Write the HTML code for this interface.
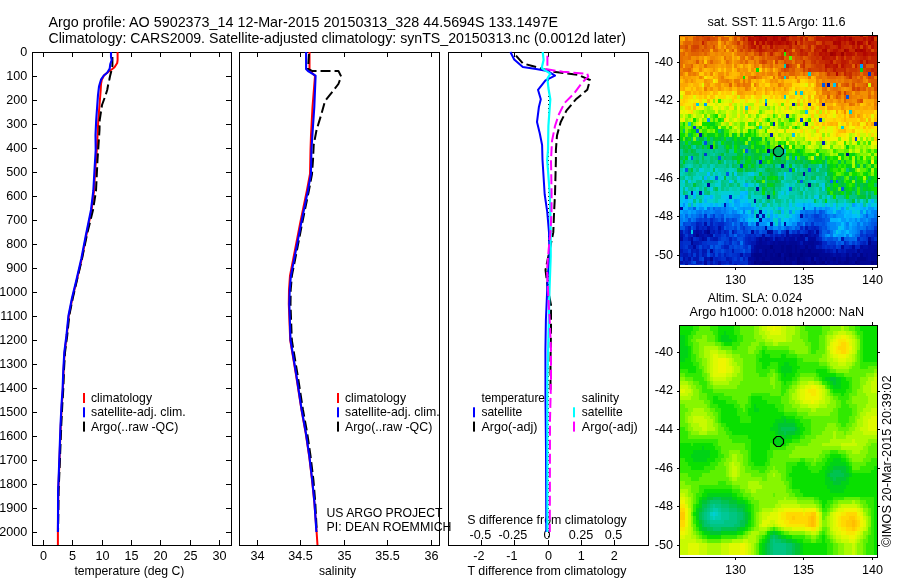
<!DOCTYPE html>
<html><head><meta charset="utf-8"><title>Argo profile</title>
<style>html,body{margin:0;padding:0;background:#fff;width:900px;height:580px;overflow:hidden}svg{display:block}</style>
</head><body>
<svg width="900" height="580" viewBox="0 0 900 580" font-family="Liberation Sans, Arial, Helvetica, sans-serif" fill="#000">
<rect width="900" height="580" fill="#fff"/>
<text x="48.5" y="27" font-size="14.8" textLength="509.5" lengthAdjust="spacingAndGlyphs">Argo profile: AO 5902373_14 12-Mar-2015 20150313_328 44.5694S 133.1497E</text>
<text x="48.5" y="43" font-size="14.8" textLength="577.5" lengthAdjust="spacingAndGlyphs">Climatology: CARS2009. Satellite-adjusted climatology: synTS_20150313.nc (0.0012d later)</text>
<g shape-rendering="crispEdges">
<rect x="32.5" y="52.5" width="199" height="493" fill="none" stroke="#000" stroke-width="1"/>
<rect x="239.5" y="52.5" width="200" height="493" fill="none" stroke="#000" stroke-width="1"/>
<rect x="448.5" y="52.5" width="200" height="493" fill="none" stroke="#000" stroke-width="1"/>
<path d="M33 76.5H37" stroke="#000" stroke-width="1"/>
<path d="M226 76.5H231" stroke="#000" stroke-width="1"/>
<path d="M33 100.5H37" stroke="#000" stroke-width="1"/>
<path d="M226 100.5H231" stroke="#000" stroke-width="1"/>
<path d="M33 124.5H37" stroke="#000" stroke-width="1"/>
<path d="M226 124.5H231" stroke="#000" stroke-width="1"/>
<path d="M33 148.5H37" stroke="#000" stroke-width="1"/>
<path d="M226 148.5H231" stroke="#000" stroke-width="1"/>
<path d="M33 172.5H37" stroke="#000" stroke-width="1"/>
<path d="M226 172.5H231" stroke="#000" stroke-width="1"/>
<path d="M33 196.5H37" stroke="#000" stroke-width="1"/>
<path d="M226 196.5H231" stroke="#000" stroke-width="1"/>
<path d="M33 220.5H37" stroke="#000" stroke-width="1"/>
<path d="M226 220.5H231" stroke="#000" stroke-width="1"/>
<path d="M33 244.5H37" stroke="#000" stroke-width="1"/>
<path d="M226 244.5H231" stroke="#000" stroke-width="1"/>
<path d="M33 268.5H37" stroke="#000" stroke-width="1"/>
<path d="M226 268.5H231" stroke="#000" stroke-width="1"/>
<path d="M33 292.5H37" stroke="#000" stroke-width="1"/>
<path d="M226 292.5H231" stroke="#000" stroke-width="1"/>
<path d="M33 316.5H37" stroke="#000" stroke-width="1"/>
<path d="M226 316.5H231" stroke="#000" stroke-width="1"/>
<path d="M33 340.5H37" stroke="#000" stroke-width="1"/>
<path d="M226 340.5H231" stroke="#000" stroke-width="1"/>
<path d="M33 364.5H37" stroke="#000" stroke-width="1"/>
<path d="M226 364.5H231" stroke="#000" stroke-width="1"/>
<path d="M33 388.5H37" stroke="#000" stroke-width="1"/>
<path d="M226 388.5H231" stroke="#000" stroke-width="1"/>
<path d="M33 412.5H37" stroke="#000" stroke-width="1"/>
<path d="M226 412.5H231" stroke="#000" stroke-width="1"/>
<path d="M33 436.5H37" stroke="#000" stroke-width="1"/>
<path d="M226 436.5H231" stroke="#000" stroke-width="1"/>
<path d="M33 460.5H37" stroke="#000" stroke-width="1"/>
<path d="M226 460.5H231" stroke="#000" stroke-width="1"/>
<path d="M33 484.5H37" stroke="#000" stroke-width="1"/>
<path d="M226 484.5H231" stroke="#000" stroke-width="1"/>
<path d="M33 508.5H37" stroke="#000" stroke-width="1"/>
<path d="M226 508.5H231" stroke="#000" stroke-width="1"/>
<path d="M33 532.5H37" stroke="#000" stroke-width="1"/>
<path d="M226 532.5H231" stroke="#000" stroke-width="1"/>
<path d="M43.5 53V57" stroke="#000" stroke-width="1"/>
<path d="M43.5 540V545" stroke="#000" stroke-width="1"/>
<path d="M72.5 53V57" stroke="#000" stroke-width="1"/>
<path d="M72.5 540V545" stroke="#000" stroke-width="1"/>
<path d="M102.5 53V57" stroke="#000" stroke-width="1"/>
<path d="M102.5 540V545" stroke="#000" stroke-width="1"/>
<path d="M131.5 53V57" stroke="#000" stroke-width="1"/>
<path d="M131.5 540V545" stroke="#000" stroke-width="1"/>
<path d="M160.5 53V57" stroke="#000" stroke-width="1"/>
<path d="M160.5 540V545" stroke="#000" stroke-width="1"/>
<path d="M190.5 53V57" stroke="#000" stroke-width="1"/>
<path d="M190.5 540V545" stroke="#000" stroke-width="1"/>
<path d="M219.5 53V57" stroke="#000" stroke-width="1"/>
<path d="M219.5 540V545" stroke="#000" stroke-width="1"/>
<path d="M257.5 53V57" stroke="#000" stroke-width="1"/>
<path d="M257.5 540V545" stroke="#000" stroke-width="1"/>
<path d="M300.5 53V57" stroke="#000" stroke-width="1"/>
<path d="M300.5 540V545" stroke="#000" stroke-width="1"/>
<path d="M344.5 53V57" stroke="#000" stroke-width="1"/>
<path d="M344.5 540V545" stroke="#000" stroke-width="1"/>
<path d="M387.5 53V57" stroke="#000" stroke-width="1"/>
<path d="M387.5 540V545" stroke="#000" stroke-width="1"/>
<path d="M431.5 53V57" stroke="#000" stroke-width="1"/>
<path d="M431.5 540V545" stroke="#000" stroke-width="1"/>
<path d="M481.5 53V57" stroke="#000" stroke-width="1"/>
<path d="M481.5 540V545" stroke="#000" stroke-width="1"/>
<path d="M514.5 53V57" stroke="#000" stroke-width="1"/>
<path d="M514.5 540V545" stroke="#000" stroke-width="1"/>
<path d="M548.5 53V57" stroke="#000" stroke-width="1"/>
<path d="M548.5 540V545" stroke="#000" stroke-width="1"/>
<path d="M581.5 53V57" stroke="#000" stroke-width="1"/>
<path d="M581.5 540V545" stroke="#000" stroke-width="1"/>
<path d="M614.5 53V57" stroke="#000" stroke-width="1"/>
<path d="M614.5 540V545" stroke="#000" stroke-width="1"/>
</g>
<text x="27.3" y="56.3" font-size="12.6" text-anchor="end">0</text>
<text x="27.3" y="80.3" font-size="12.6" text-anchor="end">100</text>
<text x="27.3" y="104.3" font-size="12.6" text-anchor="end">200</text>
<text x="27.3" y="128.3" font-size="12.6" text-anchor="end">300</text>
<text x="27.3" y="152.3" font-size="12.6" text-anchor="end">400</text>
<text x="27.3" y="176.3" font-size="12.6" text-anchor="end">500</text>
<text x="27.3" y="200.3" font-size="12.6" text-anchor="end">600</text>
<text x="27.3" y="224.3" font-size="12.6" text-anchor="end">700</text>
<text x="27.3" y="248.3" font-size="12.6" text-anchor="end">800</text>
<text x="27.3" y="272.3" font-size="12.6" text-anchor="end">900</text>
<text x="27.3" y="296.3" font-size="12.6" text-anchor="end">1000</text>
<text x="27.3" y="320.3" font-size="12.6" text-anchor="end">1100</text>
<text x="27.3" y="344.3" font-size="12.6" text-anchor="end">1200</text>
<text x="27.3" y="368.3" font-size="12.6" text-anchor="end">1300</text>
<text x="27.3" y="392.3" font-size="12.6" text-anchor="end">1400</text>
<text x="27.3" y="416.3" font-size="12.6" text-anchor="end">1500</text>
<text x="27.3" y="440.3" font-size="12.6" text-anchor="end">1600</text>
<text x="27.3" y="464.3" font-size="12.6" text-anchor="end">1700</text>
<text x="27.3" y="488.3" font-size="12.6" text-anchor="end">1800</text>
<text x="27.3" y="512.3" font-size="12.6" text-anchor="end">1900</text>
<text x="27.3" y="536.3" font-size="12.6" text-anchor="end">2000</text>
<text x="43.5" y="560.3" font-size="12.6" text-anchor="middle">0</text>
<text x="72.5" y="560.3" font-size="12.6" text-anchor="middle">5</text>
<text x="102.5" y="560.3" font-size="12.6" text-anchor="middle">10</text>
<text x="131.5" y="560.3" font-size="12.6" text-anchor="middle">15</text>
<text x="160.5" y="560.3" font-size="12.6" text-anchor="middle">20</text>
<text x="190.5" y="560.3" font-size="12.6" text-anchor="middle">25</text>
<text x="219.5" y="560.3" font-size="12.6" text-anchor="middle">30</text>
<text x="257.5" y="560.3" font-size="12.6" text-anchor="middle">34</text>
<text x="300.5" y="560.3" font-size="12.6" text-anchor="middle">34.5</text>
<text x="344.5" y="560.3" font-size="12.6" text-anchor="middle">35</text>
<text x="387.5" y="560.3" font-size="12.6" text-anchor="middle">35.5</text>
<text x="431.5" y="560.3" font-size="12.6" text-anchor="middle">36</text>
<text x="478.9" y="560.3" font-size="12.6" text-anchor="middle">-2</text>
<text x="511.9" y="560.3" font-size="12.6" text-anchor="middle">-1</text>
<text x="548.5" y="560.3" font-size="12.6" text-anchor="middle">0</text>
<text x="581.3" y="560.3" font-size="12.6" text-anchor="middle">1</text>
<text x="614.2" y="560.3" font-size="12.6" text-anchor="middle">2</text>
<text x="129.4" y="575" font-size="12.6" text-anchor="middle" textLength="110" lengthAdjust="spacingAndGlyphs">temperature (deg C)</text>
<text x="337.5" y="575" font-size="12.6" text-anchor="middle" textLength="37" lengthAdjust="spacingAndGlyphs">salinity</text>
<text x="547" y="575" font-size="12.6" text-anchor="middle" textLength="159" lengthAdjust="spacingAndGlyphs">T difference from climatology</text>
<text x="547" y="524" font-size="12.6" text-anchor="middle" textLength="159.5" lengthAdjust="spacingAndGlyphs">S difference from climatology</text>
<text x="480.3" y="539" font-size="12.6" text-anchor="middle">-0.5</text>
<text x="512.9" y="539" font-size="12.6" text-anchor="middle">-0.25</text>
<text x="547" y="539" font-size="12.6" text-anchor="middle">0</text>
<text x="581" y="539" font-size="12.6" text-anchor="middle">0.25</text>
<text x="613.6" y="539" font-size="12.6" text-anchor="middle">0.5</text>
<text x="326.5" y="516.5" font-size="12.6" textLength="116" lengthAdjust="spacingAndGlyphs">US ARGO PROJECT</text>
<text x="326.5" y="531" font-size="12.6" textLength="125" lengthAdjust="spacingAndGlyphs">PI: DEAN ROEMMICH</text>
<path d="M117.6 52.0 L117.6 60.0 L117.2 63.0 L114.5 67.2 L112.0 69.3 L107.5 72.5 L104.0 75.5 L101.8 79.7 L101.0 84.0 L100.7 90.0 L98.3 120.0 L96.8 150.0 L95.2 170.0 L94.0 191.0 L91.6 210.0 L86.5 234.5 L81.8 258.7 L76.8 280.0 L72.4 298.0 L68.8 316.0 L66.8 335.0 L64.6 352.5 L63.6 370.0 L62.9 388.7 L61.8 405.0 L60.8 425.0 L60.0 445.0 L59.2 468.0 L58.3 491.0 L58.0 519.0 L57.9 532.0 L57.9 545.0" fill="none" stroke="#f00" stroke-width="2" stroke-linejoin="round"/>
<path d="M112.4 57.0 L112.4 66.0 L111.4 70.7 L110.0 76.2 L109.3 79.7 L108.6 82.4 L107.2 90.0 L105.5 95.5 L102.0 105.0 L99.7 120.0 L99.5 130.0 L97.5 160.0 L96.0 191.0 L93.0 210.0 L87.0 234.5 L82.0 258.7 L77.0 280.0 L72.8 298.0 L69.2 316.0 L67.3 335.0 L65.0 352.5 L64.0 370.0 L63.3 388.7 L62.3 405.0 L61.3 425.0 L60.5 445.0 L59.6 468.0 L58.6 491.0 L58.3 519.0 L58.0 532.0" fill="none" stroke="#000" stroke-width="2" stroke-linejoin="round" stroke-dasharray="10 4"/>
<path d="M111.0 52.0 L111.0 57.0 L111.7 60.0 L110.3 64.0 L109.7 68.6 L107.2 72.8 L103.8 75.5 L101.0 79.7 L100.0 83.0 L99.0 86.6 L98.0 95.0 L96.2 120.0 L95.5 135.0 L95.7 150.0 L94.5 170.0 L93.3 191.0 L91.0 210.0 L86.0 234.5 L81.3 258.7 L76.4 280.0 L72.0 298.0 L68.4 316.0 L66.5 335.0 L64.3 352.5 L63.3 370.0 L62.6 388.7 L61.5 405.0 L60.5 425.0 L59.8 445.0 L59.0 468.0 L58.1 491.0 L58.0 519.0 L57.9 532.0" fill="none" stroke="#00f" stroke-width="2.1" stroke-linejoin="round"/>
<path d="M309.5 52.0 L309.5 69.0 L311.0 72.0 L315.0 76.0 L312.5 107.0 L311.0 135.0 L310.5 150.0 L310.0 174.0 L306.8 191.0 L300.3 222.5 L294.7 251.4 L290.0 275.6 L289.0 290.0 L288.8 304.0 L290.2 340.0 L296.2 376.0 L301.5 410.0 L305.7 433.0 L309.2 456.5 L312.0 479.8 L314.4 503.0 L316.6 532.0 L317.5 545.0" fill="none" stroke="#f00" stroke-width="2" stroke-linejoin="round"/>
<path d="M309.0 54.0 L308.0 69.0 L312.0 70.9 L338.4 70.9 L341.2 76.6 L338.4 84.0 L331.7 92.7 L325.0 101.0 L321.3 114.5 L316.6 129.7 L313.7 144.9 L313.0 160.0 L312.0 174.0 L308.8 191.0 L302.3 222.5 L296.7 251.4 L291.9 275.6 L290.7 290.0 L290.5 304.0 L291.8 340.0 L297.8 376.0 L303.0 410.0 L307.2 433.0 L310.6 456.5 L313.4 479.8 L315.3 503.0 L316.8 532.0" fill="none" stroke="#000" stroke-width="2" stroke-linejoin="round" stroke-dasharray="10 4"/>
<path d="M306.1 52.0 L306.1 69.0 L308.0 71.0 L315.6 75.6 L314.3 107.0 L312.4 135.0 L311.4 150.0 L310.9 174.0 L307.8 191.0 L301.3 222.5 L295.7 251.4 L290.9 275.6 L289.7 290.0 L289.3 304.0 L290.5 340.0 L296.5 376.0 L301.7 410.0 L305.9 433.0 L309.4 456.5 L312.2 479.8 L314.5 503.0 L316.4 532.0" fill="none" stroke="#00f" stroke-width="2.1" stroke-linejoin="round"/>
<path d="M548.5 80V545" stroke="#000" stroke-width="1" stroke-dasharray="1 3"/>
<path d="M516.0 55.7 L522.8 63.3 L532.3 66.0 L553.0 71.8 L577.8 74.7 L590.0 80.0 L587.3 89.8 L575.9 99.3 L566.4 110.7 L560.7 122.0 L557.0 135.4 L555.9 150.0 L555.9 160.0 L555.0 194.5 L554.1 211.7 L553.3 232.4 L549.0 253.0 L545.5 270.0 L548.0 290.0 L551.0 305.0 L551.0 330.0 L550.5 360.0 L550.5 390.0" fill="none" stroke="#000" stroke-width="2" stroke-linejoin="round" stroke-dasharray="10 4"/>
<path d="M510.4 52.0 L514.2 59.5 L522.8 67.0 L536.0 69.0 L547.4 70.9 L555.0 75.6 L545.5 80.4 L538.0 89.8 L540.8 99.3 L538.9 107.0 L537.0 122.0 L539.8 133.5 L542.1 145.0 L542.5 160.0 L544.7 194.5 L547.2 211.7 L549.0 232.4 L549.5 256.5 L547.8 275.0 L547.2 290.0 L545.9 320.0 L545.4 350.0 L545.5 400.0 L546.0 450.0 L546.3 532.0" fill="none" stroke="#00f" stroke-width="2" stroke-linejoin="round"/>
<path d="M542.7 52.0 L543.6 60.0 L541.7 68.0 L550.3 73.7 L547.4 78.5 L548.4 88.0 L550.3 99.3 L548.4 126.0 L548.0 150.0 L547.2 160.0 L549.8 194.5 L550.3 211.7 L550.7 232.4 L550.7 256.5 L549.5 290.0 L548.6 330.0 L547.4 380.0 L547.4 532.0" fill="none" stroke="#0ff" stroke-width="2.2" stroke-linejoin="round"/>
<path d="M547.4 55.7 L547.4 66.0 L545.5 69.0 L562.6 71.8 L587.3 73.7 L588.2 76.6 L581.6 83.2 L574.0 93.6 L564.5 103.0 L558.8 114.5 L555.0 126.0 L552.0 141.0 L551.0 160.0 L551.6 194.5 L551.5 211.7 L550.5 232.0 L548.6 250.0 L547.0 270.0 L548.5 300.0 L549.7 320.0 L551.0 350.0 L551.0 380.0 L550.0 420.0 L549.8 532.0" fill="none" stroke="#f0f" stroke-width="2" stroke-linejoin="round" stroke-dasharray="10 4"/>
<rect x="83" y="393.0" width="2" height="10" fill="#f00"/>
<text x="91" y="402.0" font-size="12.4" textLength="61" lengthAdjust="spacingAndGlyphs">climatology</text>
<rect x="83" y="407.3" width="2" height="10" fill="#00f"/>
<text x="91" y="416.3" font-size="12.4" textLength="94.6" lengthAdjust="spacingAndGlyphs">satellite-adj. clim.</text>
<rect x="83" y="421.6" width="2" height="10" fill="#000"/>
<text x="91" y="430.6" font-size="12.4" textLength="87.3" lengthAdjust="spacingAndGlyphs">Argo(..raw -QC)</text>
<rect x="337" y="393.0" width="2" height="10" fill="#f00"/>
<text x="345" y="402.0" font-size="12.4" textLength="61" lengthAdjust="spacingAndGlyphs">climatology</text>
<rect x="337" y="407.3" width="2" height="10" fill="#00f"/>
<text x="345" y="416.3" font-size="12.4" textLength="94.6" lengthAdjust="spacingAndGlyphs">satellite-adj. clim.</text>
<rect x="337" y="421.6" width="2" height="10" fill="#000"/>
<text x="345" y="430.6" font-size="12.4" textLength="87.3" lengthAdjust="spacingAndGlyphs">Argo(..raw -QC)</text>
<text x="481.4" y="402" font-size="12.4" textLength="63.5" lengthAdjust="spacingAndGlyphs">temperature</text>
<text x="581.8" y="402" font-size="12.4" textLength="37.2" lengthAdjust="spacingAndGlyphs">salinity</text>
<rect x="473" y="407.3" width="2" height="10" fill="#00f"/>
<text x="481.4" y="416.3" font-size="12.4" textLength="40.8" lengthAdjust="spacingAndGlyphs">satellite</text>
<rect x="473" y="421.6" width="2" height="10" fill="#000"/>
<text x="481.4" y="430.6" font-size="12.4" textLength="56" lengthAdjust="spacingAndGlyphs">Argo(-adj)</text>
<rect x="573" y="407.3" width="2" height="10" fill="#0ff"/>
<text x="581.8" y="416.3" font-size="12.4" textLength="40.8" lengthAdjust="spacingAndGlyphs">satellite</text>
<rect x="573" y="421.6" width="2" height="10" fill="#f0f"/>
<text x="581.8" y="430.6" font-size="12.4" textLength="56" lengthAdjust="spacingAndGlyphs">Argo(-adj)</text>
<g shape-rendering="crispEdges">
<path fill="#ea7900" d="M680 36h3v1h-3zM685 36h6v1h-6zM732 36h2v1h-2zM732 37h2v4h-2zM737 37h3v4h-3zM729 41h3v4h-3zM688 45h3v4h-3zM715 45h3v4h-3zM729 45h3v4h-3zM734 45h3v4h-3zM683 49h2v3h-2zM729 49h3v3h-3zM792 49h3v3h-3zM702 52h2v4h-2zM707 52h3v4h-3zM751 52h3v4h-3zM683 56h5v4h-5zM683 60h2v4h-2zM702 60h2v4h-2zM778 60h3v4h-3zM792 60h3v4h-3zM685 64h6v4h-6zM754 64h2v4h-2zM767 64h3v4h-3zM775 64h3v4h-3zM778 68h3v4h-3zM795 68h5v4h-5zM680 72h3v4h-3zM688 72h3v4h-3zM693 72h3v4h-3zM770 72h3v4h-3zM786 72h3v4h-3zM795 72h5v4h-5zM811 72h3v4h-3zM822 72h3v4h-3zM721 76h3v3h-3zM748 76h3v3h-3zM756 76h3v3h-3zM778 76h3v3h-3zM795 76h2v3h-2zM808 76h3v3h-3zM816 76h3v3h-3zM822 76h5v3h-5zM841 76h3v3h-3zM857 76h3v3h-3zM874 76h3v3h-3zM726 79h3v4h-3zM734 79h6v4h-6zM748 79h3v4h-3zM822 79h3v4h-3zM830 79h6v4h-6zM838 79h3v4h-3zM849 79h3v4h-3zM745 83h6v4h-6zM754 83h2v4h-2zM778 83h3v4h-3zM849 83h3v4h-3zM704 87h3v4h-3zM745 87h3v4h-3zM830 87h3v4h-3zM838 87h3v4h-3zM871 87h3v4h-3zM822 91h5v4h-5zM849 91h3v4h-3zM855 91h5v4h-5zM849 95h3v4h-3zM852 103h3v3h-3zM874 103h3v3h-3z"/>
<path fill="#e66d00" d="M683 36h2v1h-2zM693 36h3v1h-3zM721 36h3v1h-3zM685 37h3v4h-3zM683 41h2v4h-2zM691 41h2v4h-2zM707 41h3v4h-3zM713 41h5v4h-5zM740 41h3v4h-3zM702 45h2v4h-2zM710 45h3v4h-3zM726 45h3v4h-3zM688 49h3v3h-3zM680 52h3v4h-3zM688 52h3v4h-3zM699 52h3v4h-3zM737 52h8v4h-8zM748 52h3v4h-3zM765 52h2v4h-2zM680 56h3v4h-3zM688 56h3v4h-3zM724 56h2v4h-2zM740 56h3v4h-3zM748 56h3v4h-3zM759 56h3v4h-3zM765 56h2v4h-2zM680 60h3v4h-3zM726 60h3v4h-3zM740 60h3v4h-3zM754 60h2v4h-2zM767 60h3v4h-3zM781 60h3v4h-3zM680 64h3v4h-3zM704 64h3v4h-3zM762 64h3v4h-3zM683 68h5v4h-5zM800 68h3v4h-3zM784 72h2v4h-2zM803 72h2v4h-2zM819 72h3v4h-3zM860 72h3v4h-3zM751 76h3v3h-3zM773 76h2v3h-2zM786 76h3v3h-3zM819 76h3v3h-3zM836 76h5v3h-5zM743 79h2v4h-2zM844 79h5v4h-5zM737 83h3v4h-3zM743 83h2v4h-2zM825 83h2v4h-2zM857 83h6v4h-6zM822 87h3v4h-3zM833 87h5v4h-5zM868 87h3v4h-3zM827 91h3v4h-3zM836 91h2v4h-2zM846 91h3v4h-3zM868 91h3v4h-3zM874 91h3v4h-3zM838 95h3v4h-3zM874 95h3v4h-3zM849 103h3v3h-3z"/>
<path fill="#ef8400" d="M691 36h2v1h-2zM713 36h2v1h-2zM729 36h3v1h-3zM688 37h5v4h-5zM721 41h3v4h-3zM721 45h3v4h-3zM718 49h3v3h-3zM685 52h3v4h-3zM715 52h3v4h-3zM721 52h3v4h-3zM734 52h3v4h-3zM696 56h3v4h-3zM710 56h5v4h-5zM729 56h3v4h-3zM754 56h5v4h-5zM685 60h3v4h-3zM693 60h3v4h-3zM707 60h3v4h-3zM713 60h5v4h-5zM729 60h3v4h-3zM737 60h3v4h-3zM743 60h2v4h-2zM756 60h3v4h-3zM734 64h3v4h-3zM756 64h3v4h-3zM765 64h2v4h-2zM778 64h6v4h-6zM680 68h3v4h-3zM691 68h2v4h-2zM699 68h3v4h-3zM737 68h3v4h-3zM770 68h3v4h-3zM691 72h2v4h-2zM710 72h3v4h-3zM756 72h3v4h-3zM762 72h3v4h-3zM767 72h3v4h-3zM781 72h3v4h-3zM805 72h3v4h-3zM814 72h2v4h-2zM699 76h3v3h-3zM759 76h3v3h-3zM863 76h3v3h-3zM721 79h5v4h-5zM816 79h3v4h-3zM825 79h5v4h-5zM836 79h2v4h-2zM841 79h3v4h-3zM863 79h3v4h-3zM740 83h3v4h-3zM816 83h6v4h-6zM855 83h2v4h-2zM849 87h3v4h-3zM866 87h2v4h-2zM830 91h6v4h-6zM841 91h3v4h-3zM833 95h3v4h-3zM852 95h5v4h-5zM860 95h3v4h-3zM871 95h3v4h-3zM838 99h3v4h-3zM846 99h6v4h-6zM874 99h3v4h-3zM874 106h3v4h-3zM844 110h2v4h-2z"/>
<path fill="#d74c00" d="M696 36h6v1h-6zM704 36h6v1h-6zM715 36h3v1h-3zM737 36h3v1h-3zM797 36h3v1h-3zM696 37h3v4h-3zM702 37h2v4h-2zM710 37h5v4h-5zM734 37h3v4h-3zM803 37h2v4h-2zM811 37h3v4h-3zM704 41h3v4h-3zM797 41h3v4h-3zM816 41h3v4h-3zM685 45h3v4h-3zM691 45h2v4h-2zM704 45h3v4h-3zM713 45h2v4h-2zM745 45h3v4h-3zM691 49h5v3h-5zM702 49h2v3h-2zM745 49h3v3h-3zM781 49h3v3h-3zM871 49h3v3h-3zM754 52h2v4h-2zM762 52h3v4h-3zM767 52h3v4h-3zM773 52h2v4h-2zM795 52h2v4h-2zM808 52h3v4h-3zM775 56h3v4h-3zM795 56h5v4h-5zM836 56h2v4h-2zM765 60h2v4h-2zM784 60h2v4h-2zM795 60h2v4h-2zM811 64h3v4h-3zM786 68h3v4h-3zM830 72h6v4h-6zM852 72h3v4h-3zM857 72h3v4h-3zM863 72h5v4h-5zM871 72h3v4h-3zM846 76h3v3h-3zM871 76h3v3h-3zM846 83h3v4h-3zM852 83h3v4h-3zM866 83h2v4h-2zM871 83h3v4h-3zM874 87h3v4h-3zM838 91h3v4h-3zM860 99h3v4h-3z"/>
<path fill="#cc3600" d="M702 36h2v1h-2zM740 36h3v1h-3zM800 36h3v1h-3zM811 36h3v1h-3zM852 36h3v1h-3zM866 36h2v1h-2zM707 37h3v4h-3zM789 37h3v4h-3zM797 37h3v4h-3zM737 41h3v4h-3zM792 41h3v4h-3zM805 41h3v4h-3zM743 45h2v4h-2zM756 45h3v4h-3zM773 45h2v4h-2zM784 45h2v4h-2zM795 45h2v4h-2zM814 45h2v4h-2zM849 45h3v4h-3zM748 49h3v3h-3zM754 49h2v3h-2zM767 49h6v3h-6zM789 49h3v3h-3zM795 49h5v3h-5zM805 49h3v3h-3zM827 49h3v3h-3zM781 52h3v4h-3zM797 52h3v4h-3zM811 52h3v4h-3zM855 52h2v4h-2zM778 56h3v4h-3zM811 56h5v4h-5zM819 56h3v4h-3zM868 56h3v4h-3zM811 60h3v4h-3zM863 60h3v4h-3zM816 64h6v4h-6zM808 68h3v4h-3zM819 68h3v4h-3zM830 68h3v4h-3zM849 68h8v4h-8zM866 68h5v4h-5zM827 72h3v4h-3zM846 72h3v4h-3z"/>
<path fill="#dc5700" d="M710 36h3v1h-3zM734 36h3v1h-3zM693 37h3v4h-3zM699 37h3v4h-3zM715 37h3v4h-3zM721 37h3v4h-3zM808 37h3v4h-3zM693 41h6v4h-6zM734 41h3v4h-3zM754 41h2v4h-2zM737 45h6v4h-6zM803 45h2v4h-2zM811 45h3v4h-3zM696 49h3v3h-3zM732 49h2v3h-2zM751 49h3v3h-3zM811 49h3v3h-3zM745 52h3v4h-3zM756 52h3v4h-3zM778 52h3v4h-3zM751 56h3v4h-3zM762 56h3v4h-3zM767 56h8v4h-8zM786 56h3v4h-3zM805 56h3v4h-3zM696 60h3v4h-3zM759 60h3v4h-3zM786 60h6v4h-6zM797 60h6v4h-6zM805 60h6v4h-6zM792 64h3v4h-3zM866 64h8v4h-8zM781 68h3v4h-3zM792 68h3v4h-3zM805 68h3v4h-3zM778 72h3v4h-3zM841 72h3v4h-3zM754 76h2v3h-2zM855 76h2v3h-2zM860 76h3v3h-3zM857 79h3v4h-3zM871 79h6v4h-6zM836 83h2v4h-2zM844 83h2v4h-2zM874 83h3v4h-3zM855 87h2v4h-2zM863 87h3v4h-3zM827 95h3v4h-3zM836 95h2v4h-2z"/>
<path fill="#e16200" d="M718 36h3v1h-3zM805 36h3v1h-3zM724 37h5v4h-5zM685 41h6v4h-6zM699 41h3v4h-3zM710 41h3v4h-3zM724 41h2v4h-2zM732 41h2v4h-2zM680 45h5v4h-5zM699 45h3v4h-3zM707 45h3v4h-3zM685 49h3v3h-3zM699 49h3v3h-3zM704 49h6v3h-6zM713 49h5v3h-5zM724 49h2v3h-2zM737 49h3v3h-3zM743 49h2v3h-2zM683 52h2v4h-2zM691 52h8v4h-8zM704 52h3v4h-3zM775 52h3v4h-3zM743 56h2v4h-2zM784 56h2v4h-2zM792 56h3v4h-3zM803 56h2v4h-2zM710 60h3v4h-3zM745 60h3v4h-3zM770 60h3v4h-3zM691 64h2v4h-2zM770 64h3v4h-3zM795 64h2v4h-2zM805 64h6v4h-6zM852 64h3v4h-3zM688 68h3v4h-3zM789 68h3v4h-3zM789 72h6v4h-6zM825 72h2v4h-2zM781 76h3v3h-3zM827 76h9v3h-9zM844 76h2v3h-2zM852 76h3v3h-3zM866 76h2v3h-2zM852 79h5v4h-5zM860 79h3v4h-3zM868 79h3v4h-3zM729 83h3v4h-3zM841 83h3v4h-3zM863 83h3v4h-3zM825 87h2v4h-2zM860 87h3v4h-3zM844 95h2v4h-2zM868 95h3v4h-3zM844 99h2v4h-2zM857 99h3v4h-3z"/>
<path fill="#f79c00" d="M724 36h5v1h-5zM729 37h3v4h-3zM680 49h3v3h-3zM734 49h3v3h-3zM699 56h3v4h-3zM707 56h3v4h-3zM718 56h3v4h-3zM734 56h3v4h-3zM745 56h3v4h-3zM724 60h2v4h-2zM773 60h2v4h-2zM693 64h3v4h-3zM702 64h2v4h-2zM715 64h3v4h-3zM721 64h3v4h-3zM751 64h3v4h-3zM726 68h6v4h-6zM740 68h3v4h-3zM767 68h3v4h-3zM775 68h3v4h-3zM704 72h3v4h-3zM754 72h2v4h-2zM765 72h2v4h-2zM775 72h3v4h-3zM685 76h6v3h-6zM702 76h2v3h-2zM737 76h3v3h-3zM765 76h2v3h-2zM707 79h3v4h-3zM745 79h3v4h-3zM773 79h2v4h-2zM781 79h3v4h-3zM819 79h3v4h-3zM704 83h3v4h-3zM715 83h3v4h-3zM724 83h5v4h-5zM756 83h3v4h-3zM838 83h3v4h-3zM729 87h3v4h-3zM737 87h3v4h-3zM765 87h2v4h-2zM816 87h3v4h-3zM827 87h3v4h-3zM844 87h2v4h-2zM737 91h6v4h-6zM754 91h2v4h-2zM816 91h3v4h-3zM852 91h3v4h-3zM871 91h3v4h-3zM822 95h3v4h-3zM827 99h3v4h-3zM836 99h2v4h-2zM841 99h3v4h-3zM838 103h3v3h-3zM844 103h2v3h-2zM868 103h3v3h-3zM827 106h6v4h-6zM849 114h3v4h-3zM857 114h3v4h-3z"/>
<path fill="#d24100" d="M743 36h2v1h-2zM808 36h3v1h-3zM814 36h2v1h-2zM822 36h3v1h-3zM863 36h3v1h-3zM704 37h3v4h-3zM740 37h3v4h-3zM745 37h3v4h-3zM874 37h3v4h-3zM743 41h5v4h-5zM803 41h2v4h-2zM819 41h3v4h-3zM866 41h2v4h-2zM693 45h6v4h-6zM762 45h3v4h-3zM767 45h3v4h-3zM792 45h3v4h-3zM800 45h3v4h-3zM805 45h3v4h-3zM860 45h3v4h-3zM868 45h3v4h-3zM740 49h3v3h-3zM778 49h3v3h-3zM786 52h3v4h-3zM792 52h3v4h-3zM800 56h3v4h-3zM808 56h3v4h-3zM844 56h2v4h-2zM852 56h3v4h-3zM762 60h3v4h-3zM775 60h3v4h-3zM816 60h3v4h-3zM833 60h3v4h-3zM849 60h3v4h-3zM789 64h3v4h-3zM800 64h3v4h-3zM814 64h2v4h-2zM822 64h3v4h-3zM838 64h3v4h-3zM857 64h3v4h-3zM784 68h2v4h-2zM803 68h2v4h-2zM811 68h8v4h-8zM822 68h3v4h-3zM827 68h3v4h-3zM846 68h3v4h-3zM857 68h3v4h-3zM863 68h3v4h-3zM838 72h3v4h-3zM855 72h2v4h-2zM868 76h3v3h-3zM852 87h3v4h-3zM857 87h3v4h-3zM844 91h2v4h-2z"/>
<path fill="#c22100" d="M745 36h3v1h-3zM792 36h5v1h-5zM803 36h2v1h-2zM816 36h3v1h-3zM846 36h6v1h-6zM743 37h2v4h-2zM805 37h3v4h-3zM855 37h8v4h-8zM866 37h2v4h-2zM702 41h2v4h-2zM748 41h3v4h-3zM800 41h3v4h-3zM814 41h2v4h-2zM841 41h3v4h-3zM863 41h3v4h-3zM874 41h3v4h-3zM775 45h3v4h-3zM808 45h3v4h-3zM822 45h3v4h-3zM836 45h2v4h-2zM841 45h3v4h-3zM866 45h2v4h-2zM874 45h3v4h-3zM762 49h3v3h-3zM773 49h2v3h-2zM816 49h3v3h-3zM830 49h3v3h-3zM838 49h3v3h-3zM866 49h2v3h-2zM770 52h3v4h-3zM800 52h3v4h-3zM805 52h3v4h-3zM814 52h2v4h-2zM844 52h2v4h-2zM830 56h3v4h-3zM846 56h6v4h-6zM860 56h3v4h-3zM866 56h2v4h-2zM871 56h6v4h-6zM825 60h5v4h-5zM846 60h3v4h-3zM857 60h3v4h-3zM868 60h9v4h-9zM786 64h3v4h-3zM830 64h3v4h-3zM844 64h2v4h-2zM874 64h3v4h-3zM825 68h2v4h-2zM844 68h2v4h-2zM871 68h3v4h-3zM844 72h2v4h-2zM874 72h3v4h-3z"/>
<path fill="#bc1700" d="M748 36h3v1h-3zM765 36h2v1h-2zM781 36h3v1h-3zM754 37h2v4h-2zM767 37h3v4h-3zM778 37h3v4h-3zM786 37h3v4h-3zM800 37h3v4h-3zM816 37h14v4h-14zM833 37h3v4h-3zM852 37h3v4h-3zM773 41h2v4h-2zM784 41h2v4h-2zM789 41h3v4h-3zM822 41h3v4h-3zM844 41h2v4h-2zM871 41h3v4h-3zM751 45h3v4h-3zM789 45h3v4h-3zM816 45h6v4h-6zM827 45h3v4h-3zM852 45h3v4h-3zM759 49h3v3h-3zM800 49h3v3h-3zM814 49h2v3h-2zM868 49h3v3h-3zM822 52h3v4h-3zM827 52h3v4h-3zM836 52h5v4h-5zM852 52h3v4h-3zM857 52h6v4h-6zM868 52h3v4h-3zM874 52h3v4h-3zM825 56h5v4h-5zM833 56h3v4h-3zM841 56h3v4h-3zM863 56h3v4h-3zM841 60h5v4h-5zM827 64h3v4h-3zM833 64h3v4h-3zM855 64h2v4h-2zM833 68h3v4h-3z"/>
<path fill="#c72b00" d="M751 36h3v1h-3zM789 36h3v1h-3zM819 36h3v1h-3zM841 36h3v1h-3zM855 36h5v1h-5zM792 37h5v4h-5zM814 37h2v4h-2zM759 41h3v4h-3zM765 41h2v4h-2zM808 41h6v4h-6zM825 41h8v4h-8zM846 41h3v4h-3zM855 41h2v4h-2zM748 45h3v4h-3zM765 45h2v4h-2zM778 45h6v4h-6zM786 45h3v4h-3zM797 45h3v4h-3zM830 45h6v4h-6zM844 45h5v4h-5zM855 45h2v4h-2zM756 49h3v3h-3zM765 49h2v3h-2zM775 49h3v3h-3zM786 49h3v3h-3zM803 49h2v3h-2zM808 49h3v3h-3zM819 49h3v3h-3zM841 49h3v3h-3zM849 49h6v3h-6zM874 49h3v3h-3zM759 52h3v4h-3zM789 52h3v4h-3zM803 52h2v4h-2zM816 52h3v4h-3zM781 56h3v4h-3zM816 56h3v4h-3zM838 56h3v4h-3zM855 56h5v4h-5zM803 60h2v4h-2zM814 60h2v4h-2zM819 60h6v4h-6zM836 60h5v4h-5zM852 60h5v4h-5zM803 64h2v4h-2zM846 64h6v4h-6zM863 64h3v4h-3zM836 68h8v4h-8zM874 68h3v4h-3zM849 72h3v4h-3zM849 76h3v3h-3z"/>
<path fill="#a40100" d="M754 36h2v1h-2zM759 36h3v1h-3zM765 37h2v4h-2zM781 37h5v4h-5zM849 37h3v4h-3zM871 37h3v4h-3zM844 49h2v3h-2zM855 49h2v3h-2zM860 49h3v3h-3z"/>
<path fill="#b20500" d="M756 36h3v1h-3zM775 36h3v1h-3zM830 36h3v1h-3zM844 36h2v1h-2zM860 36h3v1h-3zM874 36h3v1h-3zM748 37h3v4h-3zM762 37h3v4h-3zM775 37h3v4h-3zM838 37h3v4h-3zM844 37h2v4h-2zM756 41h3v4h-3zM762 41h3v4h-3zM778 41h3v4h-3zM786 41h3v4h-3zM836 41h2v4h-2zM860 41h3v4h-3zM838 45h3v4h-3zM784 49h2v3h-2zM822 49h3v3h-3zM846 49h3v3h-3zM857 49h3v3h-3zM863 49h3v3h-3zM863 52h3v4h-3zM836 72h2v4h-2z"/>
<path fill="#b70e00" d="M762 36h3v1h-3zM767 36h6v1h-6zM778 36h3v1h-3zM784 36h2v1h-2zM825 36h5v1h-5zM836 36h5v1h-5zM868 36h3v1h-3zM751 37h3v4h-3zM756 37h3v4h-3zM770 37h3v4h-3zM830 37h3v4h-3zM836 37h2v4h-2zM841 37h3v4h-3zM846 37h3v4h-3zM863 37h3v4h-3zM868 37h3v4h-3zM751 41h3v4h-3zM767 41h3v4h-3zM775 41h3v4h-3zM781 41h3v4h-3zM849 41h3v4h-3zM754 45h2v4h-2zM759 45h3v4h-3zM770 45h3v4h-3zM825 45h2v4h-2zM857 45h3v4h-3zM863 45h3v4h-3zM871 45h3v4h-3zM833 49h5v3h-5zM819 52h3v4h-3zM825 52h2v4h-2zM846 52h6v4h-6zM866 52h2v4h-2zM871 52h3v4h-3zM822 56h3v4h-3zM830 60h3v4h-3zM860 60h3v4h-3zM866 60h2v4h-2zM825 64h2v4h-2zM836 64h2v4h-2zM841 64h3v4h-3z"/>
<path fill="#ab0300" d="M773 36h2v1h-2zM786 36h3v1h-3zM833 36h3v1h-3zM871 36h3v1h-3zM759 37h3v4h-3zM773 37h2v4h-2zM770 41h3v4h-3zM795 41h2v4h-2zM833 41h3v4h-3zM838 41h3v4h-3zM852 41h3v4h-3zM857 41h3v4h-3zM868 41h3v4h-3zM825 49h2v3h-2zM833 52h3v4h-3z"/>
<path fill="#fba700" d="M680 37h3v4h-3zM718 45h3v4h-3zM724 45h2v4h-2zM710 49h3v3h-3zM732 60h2v4h-2zM683 64h2v4h-2zM696 64h3v4h-3zM718 64h3v4h-3zM724 64h2v4h-2zM737 64h3v4h-3zM745 64h3v4h-3zM759 64h3v4h-3zM797 64h3v4h-3zM702 68h2v4h-2zM710 68h3v4h-3zM715 68h3v4h-3zM721 68h3v4h-3zM754 68h2v4h-2zM743 72h2v4h-2zM680 76h3v3h-3zM691 76h5v3h-5zM713 76h2v3h-2zM724 76h2v3h-2zM762 76h3v3h-3zM775 76h3v3h-3zM805 76h3v3h-3zM814 76h2v3h-2zM683 79h2v4h-2zM688 79h3v4h-3zM693 79h3v4h-3zM710 79h3v4h-3zM732 79h2v4h-2zM740 79h3v4h-3zM756 79h3v4h-3zM680 83h8v4h-8zM770 83h3v4h-3zM786 83h6v4h-6zM683 87h2v4h-2zM696 87h3v4h-3zM707 87h3v4h-3zM721 87h3v4h-3zM740 87h5v4h-5zM756 87h3v4h-3zM778 87h3v4h-3zM786 87h3v4h-3zM814 87h2v4h-2zM819 87h3v4h-3zM685 91h6v4h-6zM699 91h3v4h-3zM743 91h2v4h-2zM765 91h2v4h-2zM830 95h3v4h-3zM833 99h3v4h-3zM866 99h8v4h-8zM819 103h3v3h-3zM836 103h2v3h-2zM846 103h3v3h-3zM855 103h2v3h-2zM866 103h2v3h-2zM844 106h2v4h-2zM849 106h3v4h-3zM855 106h5v4h-5zM863 106h5v4h-5zM871 106h3v4h-3zM836 110h2v4h-2zM852 110h3v4h-3zM852 114h3v4h-3zM866 122h2v4h-2zM871 122h3v4h-3z"/>
<path fill="#fdb200" d="M683 37h2v4h-2zM718 41h3v4h-3zM726 49h3v3h-3zM732 52h2v4h-2zM704 56h3v4h-3zM721 56h3v4h-3zM732 56h2v4h-2zM737 56h3v4h-3zM721 60h3v4h-3zM693 68h6v4h-6zM707 68h3v4h-3zM734 68h3v4h-3zM685 72h3v4h-3zM707 72h3v4h-3zM715 72h3v4h-3zM724 72h2v4h-2zM729 72h3v4h-3zM737 72h3v4h-3zM751 72h3v4h-3zM696 76h3v3h-3zM715 76h3v3h-3zM726 76h3v3h-3zM734 76h3v3h-3zM745 76h3v3h-3zM767 76h3v3h-3zM789 76h6v3h-6zM797 76h8v3h-8zM751 79h3v4h-3zM765 79h5v4h-5zM778 79h3v4h-3zM808 79h6v4h-6zM693 83h6v4h-6zM713 83h2v4h-2zM721 83h3v4h-3zM732 83h2v4h-2zM773 83h5v4h-5zM784 83h2v4h-2zM680 87h3v4h-3zM691 87h2v4h-2zM699 87h3v4h-3zM713 87h5v4h-5zM726 87h3v4h-3zM759 87h3v4h-3zM767 87h6v4h-6zM775 87h3v4h-3zM693 91h3v4h-3zM704 91h3v4h-3zM713 91h2v4h-2zM745 91h6v4h-6zM773 91h2v4h-2zM781 91h5v4h-5zM819 91h3v4h-3zM740 95h5v4h-5zM808 95h3v4h-3zM814 95h5v4h-5zM825 95h2v4h-2zM707 99h3v4h-3zM822 99h3v4h-3zM863 99h3v4h-3zM797 103h3v3h-3zM827 103h6v3h-6zM871 103h3v3h-3zM833 106h8v4h-8zM846 106h3v4h-3zM852 106h3v4h-3zM860 106h3v4h-3zM868 106h3v4h-3zM860 110h3v4h-3zM844 114h2v4h-2zM860 114h3v4h-3zM844 118h2v4h-2zM860 118h3v4h-3zM868 118h3v4h-3zM830 122h3v4h-3zM836 122h2v4h-2zM857 122h3v4h-3zM844 129h2v4h-2z"/>
<path fill="#f39000" d="M718 37h3v4h-3zM680 41h3v4h-3zM726 41h3v4h-3zM732 45h2v4h-2zM721 49h3v3h-3zM710 52h5v4h-5zM718 52h3v4h-3zM724 52h8v4h-8zM691 56h5v4h-5zM702 56h2v4h-2zM715 56h3v4h-3zM726 56h3v4h-3zM688 60h5v4h-5zM699 60h3v4h-3zM718 60h3v4h-3zM734 60h3v4h-3zM748 60h6v4h-6zM699 64h3v4h-3zM707 64h8v4h-8zM726 64h6v4h-6zM743 64h2v4h-2zM773 64h2v4h-2zM713 68h2v4h-2zM743 68h5v4h-5zM751 68h3v4h-3zM762 68h3v4h-3zM683 72h2v4h-2zM696 72h3v4h-3zM718 72h6v4h-6zM726 72h3v4h-3zM740 72h3v4h-3zM745 72h6v4h-6zM759 72h3v4h-3zM773 72h2v4h-2zM800 72h3v4h-3zM816 72h3v4h-3zM683 76h2v3h-2zM718 76h3v3h-3zM740 76h3v3h-3zM685 79h3v4h-3zM691 79h2v4h-2zM704 79h3v4h-3zM718 79h3v4h-3zM729 79h3v4h-3zM770 79h3v4h-3zM775 79h3v4h-3zM797 79h3v4h-3zM866 79h2v4h-2zM707 83h3v4h-3zM718 83h3v4h-3zM734 83h3v4h-3zM781 83h3v4h-3zM830 83h3v4h-3zM710 87h3v4h-3zM718 87h3v4h-3zM748 87h3v4h-3zM773 87h2v4h-2zM784 87h2v4h-2zM841 87h3v4h-3zM846 87h3v4h-3zM860 91h8v4h-8zM819 95h3v4h-3zM841 95h3v4h-3zM857 95h3v4h-3zM863 95h5v4h-5zM819 99h3v4h-3zM825 99h2v4h-2zM830 99h3v4h-3zM852 99h5v4h-5zM841 103h3v3h-3zM857 103h3v3h-3zM841 106h3v4h-3z"/>
<path fill="#30ea00" d="M784 52h2v4h-2zM718 99h3v4h-3zM713 114h2v4h-2zM773 114h2v4h-2zM713 118h2v4h-2zM721 118h3v4h-3zM792 118h3v4h-3zM808 118h3v4h-3zM691 122h2v4h-2zM715 122h3v4h-3zM748 122h3v4h-3zM754 122h2v4h-2zM781 122h3v4h-3zM803 122h2v4h-2zM680 126h5v3h-5zM691 126h2v3h-2zM710 126h3v3h-3zM721 126h5v3h-5zM729 126h3v3h-3zM756 126h3v3h-3zM680 129h3v4h-3zM688 129h3v4h-3zM702 129h5v4h-5zM724 129h5v4h-5zM765 129h2v4h-2zM693 133h3v4h-3zM704 133h3v4h-3zM715 133h3v4h-3zM724 133h2v4h-2zM751 133h3v4h-3zM713 141h2v4h-2zM759 141h3v4h-3zM765 141h2v4h-2zM781 141h3v4h-3zM844 141h2v4h-2zM857 141h3v4h-3zM868 141h3v4h-3zM713 145h2v4h-2zM751 145h3v4h-3zM765 145h2v4h-2zM756 149h3v4h-3zM765 149h2v4h-2zM773 149h2v4h-2zM786 149h6v4h-6zM803 149h2v4h-2zM833 149h3v4h-3zM868 149h3v4h-3zM874 149h3v4h-3zM803 153h5v3h-5zM814 153h2v3h-2zM822 153h3v3h-3zM855 153h2v3h-2zM871 153h3v3h-3zM797 156h3v4h-3zM822 156h3v4h-3zM830 156h3v4h-3zM866 156h5v4h-5zM874 156h3v4h-3zM767 160h3v4h-3zM827 160h3v4h-3zM833 160h5v4h-5zM841 160h3v4h-3zM846 160h6v4h-6zM857 160h6v4h-6zM866 160h2v4h-2zM838 164h3v4h-3zM844 164h2v4h-2zM866 164h2v4h-2zM833 168h5v4h-5zM844 168h2v4h-2zM866 168h2v4h-2zM841 172h3v4h-3zM857 172h3v4h-3zM868 172h3v4h-3zM833 176h3v4h-3zM844 176h2v4h-2zM844 180h2v3h-2zM849 183h3v4h-3zM857 187h3v4h-3zM830 191h3v4h-3zM857 191h3v4h-3z"/>
<path fill="#a00000" d="M830 52h3v4h-3zM841 52h3v4h-3z"/>
<path fill="#5ef100" d="M789 56h3v4h-3zM781 103h3v3h-3zM702 110h2v4h-2zM759 110h3v4h-3zM688 114h3v4h-3zM704 114h3v4h-3zM710 114h3v4h-3zM724 114h2v4h-2zM756 114h3v4h-3zM792 114h3v4h-3zM765 118h2v4h-2zM778 118h3v4h-3zM680 122h3v4h-3zM718 122h3v4h-3zM740 122h5v4h-5zM751 122h3v4h-3zM759 122h3v4h-3zM778 122h3v4h-3zM696 126h3v3h-3zM704 126h3v3h-3zM740 126h3v3h-3zM767 126h3v3h-3zM781 126h3v3h-3zM786 126h3v3h-3zM792 126h3v3h-3zM797 126h3v3h-3zM710 129h3v4h-3zM740 129h3v4h-3zM751 129h3v4h-3zM685 133h3v4h-3zM696 133h3v4h-3zM743 133h2v4h-2zM756 133h3v4h-3zM683 137h2v4h-2zM767 137h3v4h-3zM773 137h2v4h-2zM786 137h3v4h-3zM762 141h3v4h-3zM773 141h2v4h-2zM789 141h6v4h-6zM797 141h3v4h-3zM808 141h3v4h-3zM863 141h3v4h-3zM770 145h5v4h-5zM800 145h3v4h-3zM819 145h3v4h-3zM830 145h3v4h-3zM852 145h3v4h-3zM743 149h2v4h-2zM792 149h3v4h-3zM819 149h8v4h-8zM836 149h2v4h-2zM844 149h5v4h-5zM860 149h3v4h-3zM866 149h2v4h-2zM825 153h5v3h-5zM844 153h2v3h-2zM857 153h3v3h-3zM786 156h3v4h-3zM808 156h3v4h-3zM844 156h5v4h-5zM857 156h3v4h-3zM863 160h3v4h-3zM860 164h3v4h-3zM868 164h3v4h-3zM874 164h3v4h-3zM841 168h3v4h-3zM855 168h2v4h-2zM860 168h6v4h-6zM836 172h5v4h-5zM849 172h3v4h-3zM860 172h3v4h-3zM846 176h3v4h-3zM762 180h3v3h-3zM863 180h3v3h-3zM838 187h3v4h-3z"/>
<path fill="#ffca00" d="M704 60h3v4h-3zM718 68h3v4h-3zM724 68h2v4h-2zM732 68h2v4h-2zM699 72h5v4h-5zM713 72h2v4h-2zM707 76h6v3h-6zM770 76h3v3h-3zM792 79h3v4h-3zM805 79h3v4h-3zM691 83h2v4h-2zM699 83h3v4h-3zM759 83h3v4h-3zM685 87h6v4h-6zM693 87h3v4h-3zM702 87h2v4h-2zM762 87h3v4h-3zM789 87h3v4h-3zM797 87h3v4h-3zM805 87h3v4h-3zM811 87h3v4h-3zM691 91h2v4h-2zM721 91h3v4h-3zM726 91h6v4h-6zM775 91h3v4h-3zM797 91h3v4h-3zM808 91h3v4h-3zM683 95h5v4h-5zM699 95h3v4h-3zM713 95h2v4h-2zM734 95h3v4h-3zM748 95h3v4h-3zM756 95h6v4h-6zM770 95h3v4h-3zM775 95h3v4h-3zM789 95h6v4h-6zM800 95h3v4h-3zM683 99h2v4h-2zM732 99h2v4h-2zM797 99h3v4h-3zM803 99h2v4h-2zM680 103h3v3h-3zM693 103h3v3h-3zM729 103h3v3h-3zM816 103h3v3h-3zM860 103h3v3h-3zM688 106h3v4h-3zM748 106h3v4h-3zM805 106h3v4h-3zM816 110h3v4h-3zM822 110h3v4h-3zM827 110h3v4h-3zM811 114h3v4h-3zM819 114h3v4h-3zM825 114h2v4h-2zM838 114h3v4h-3zM855 114h2v4h-2zM868 114h3v4h-3zM874 114h3v4h-3zM814 118h2v4h-2zM833 118h3v4h-3zM841 118h3v4h-3zM846 118h11v4h-11zM816 122h3v4h-3zM855 122h2v4h-2zM868 122h3v4h-3zM811 126h3v3h-3zM836 126h2v3h-2zM844 126h2v3h-2zM868 126h3v3h-3zM816 129h3v4h-3zM836 133h2v4h-2zM819 137h3v4h-3zM874 137h3v4h-3z"/>
<path fill="#ffbd00" d="M732 64h2v4h-2zM740 64h3v4h-3zM748 64h3v4h-3zM704 68h3v4h-3zM748 68h3v4h-3zM765 68h2v4h-2zM773 68h2v4h-2zM732 72h5v4h-5zM729 76h5v3h-5zM811 76h3v3h-3zM680 79h3v4h-3zM696 79h8v4h-8zM754 79h2v4h-2zM759 79h3v4h-3zM784 79h8v4h-8zM795 79h2v4h-2zM814 79h2v4h-2zM688 83h3v4h-3zM710 83h3v4h-3zM762 83h3v4h-3zM808 83h3v4h-3zM814 83h2v4h-2zM724 87h2v4h-2zM732 87h5v4h-5zM751 87h3v4h-3zM781 87h3v4h-3zM795 87h2v4h-2zM696 91h3v4h-3zM702 91h2v4h-2zM707 91h3v4h-3zM715 91h3v4h-3zM751 91h3v4h-3zM756 91h6v4h-6zM767 91h3v4h-3zM778 91h3v4h-3zM786 91h3v4h-3zM803 91h2v4h-2zM704 95h3v4h-3zM710 95h3v4h-3zM781 95h3v4h-3zM808 99h3v4h-3zM814 99h2v4h-2zM825 103h2v3h-2zM863 103h3v3h-3zM693 106h3v4h-3zM811 106h3v4h-3zM819 106h6v4h-6zM841 110h3v4h-3zM855 110h5v4h-5zM863 110h11v4h-11zM866 114h2v4h-2zM863 118h3v4h-3zM874 118h3v4h-3zM822 122h3v4h-3zM827 122h3v4h-3zM833 122h3v4h-3zM846 122h3v4h-3zM852 122h3v4h-3zM863 126h3v3h-3zM838 129h6v4h-6zM852 129h3v4h-3z"/>
<path fill="#00ccac" d="M784 64h2v4h-2zM693 145h3v4h-3zM713 153h2v3h-2zM685 164h3v4h-3zM691 164h2v4h-2zM702 164h5v4h-5zM713 164h2v4h-2zM729 164h3v4h-3zM778 164h3v4h-3zM786 164h3v4h-3zM792 164h3v4h-3zM680 168h3v4h-3zM693 168h3v4h-3zM704 168h6v4h-6zM718 168h6v4h-6zM726 168h3v4h-3zM734 168h3v4h-3zM759 168h3v4h-3zM800 168h3v4h-3zM683 172h2v4h-2zM699 172h8v4h-8zM715 172h3v4h-3zM721 172h5v4h-5zM743 172h5v4h-5zM754 172h5v4h-5zM778 172h3v4h-3zM786 172h6v4h-6zM688 176h3v4h-3zM707 176h3v4h-3zM729 176h3v4h-3zM740 176h3v4h-3zM745 176h3v4h-3zM786 176h6v4h-6zM691 180h2v3h-2zM715 180h3v3h-3zM748 180h3v3h-3zM784 180h2v3h-2zM792 180h3v3h-3zM808 180h3v3h-3zM816 180h9v3h-9zM691 183h2v4h-2zM702 183h2v4h-2zM710 183h5v4h-5zM726 183h3v4h-3zM734 183h3v4h-3zM789 183h3v4h-3zM800 183h5v4h-5zM693 187h3v4h-3zM707 187h3v4h-3zM724 187h2v4h-2zM732 187h5v4h-5zM754 187h2v4h-2zM795 187h2v4h-2zM814 187h2v4h-2zM715 191h3v4h-3zM784 191h2v4h-2zM789 191h8v4h-8zM808 191h3v4h-3zM814 191h2v4h-2zM688 195h3v4h-3zM696 195h6v4h-6zM715 195h6v4h-6zM797 195h3v4h-3zM836 195h2v4h-2zM715 199h3v4h-3zM756 199h3v4h-3zM781 199h3v4h-3zM816 199h3v4h-3zM830 199h6v4h-6zM838 199h6v4h-6zM874 199h3v4h-3zM688 203h3v4h-3zM756 203h3v4h-3zM786 203h3v4h-3zM836 203h2v4h-2zM759 207h3v3h-3zM773 207h2v3h-2zM846 207h3v3h-3zM754 210h2v4h-2zM775 210h3v4h-3zM767 214h3v4h-3z"/>
<path fill="#009afc" d="M860 64h3v4h-3zM704 103h3v3h-3zM707 118h3v4h-3zM795 156h2v4h-2zM734 199h3v4h-3zM726 203h3v4h-3zM852 203h3v4h-3zM729 207h5v3h-5zM740 207h3v3h-3zM745 207h9v3h-9zM827 207h3v3h-3zM841 207h3v3h-3zM868 207h6v3h-6zM693 210h3v4h-3zM729 210h3v4h-3zM836 210h2v4h-2zM683 214h2v4h-2zM743 214h5v4h-5zM797 214h3v4h-3zM838 214h6v4h-6zM740 218h3v4h-3zM765 218h2v4h-2zM778 218h3v4h-3zM797 218h3v4h-3zM841 218h5v4h-5zM849 218h3v4h-3zM866 218h2v4h-2zM754 222h2v4h-2zM765 222h2v4h-2zM836 222h5v4h-5zM844 222h2v4h-2zM852 222h5v4h-5zM860 222h3v4h-3zM844 226h2v4h-2zM833 230h3v4h-3zM841 230h3v4h-3zM849 230h3v4h-3zM827 234h3v3h-3zM838 234h6v3h-6z"/>
<path fill="#09e000" d="M756 68h3v4h-3zM743 76h2v3h-2zM715 114h3v4h-3zM693 118h3v4h-3zM718 118h3v4h-3zM767 118h3v4h-3zM789 118h3v4h-3zM683 122h2v4h-2zM702 122h8v4h-8zM770 122h3v4h-3zM699 126h3v3h-3zM707 126h3v3h-3zM713 126h2v3h-2zM691 129h5v4h-5zM715 129h3v4h-3zM748 129h3v4h-3zM754 129h2v4h-2zM680 133h5v4h-5zM726 133h3v4h-3zM734 133h3v4h-3zM745 133h6v4h-6zM754 133h2v4h-2zM688 137h3v4h-3zM707 137h3v4h-3zM724 137h2v4h-2zM734 137h3v4h-3zM740 137h3v4h-3zM685 141h3v4h-3zM721 141h3v4h-3zM751 141h3v4h-3zM756 141h3v4h-3zM778 141h3v4h-3zM784 141h2v4h-2zM726 145h3v4h-3zM734 145h3v4h-3zM767 145h3v4h-3zM786 145h3v4h-3zM792 145h3v4h-3zM803 145h2v4h-2zM734 149h3v4h-3zM762 149h3v4h-3zM778 149h3v4h-3zM795 149h2v4h-2zM800 149h3v4h-3zM816 149h3v4h-3zM770 153h3v3h-3zM786 153h3v3h-3zM792 153h8v3h-8zM808 153h6v3h-6zM849 153h3v3h-3zM748 156h3v4h-3zM759 156h3v4h-3zM770 156h3v4h-3zM792 156h3v4h-3zM816 156h3v4h-3zM827 156h3v4h-3zM833 156h5v4h-5zM841 156h3v4h-3zM849 156h3v4h-3zM860 156h3v4h-3zM811 160h5v4h-5zM819 160h3v4h-3zM830 160h3v4h-3zM874 160h3v4h-3zM833 164h3v4h-3zM841 164h3v4h-3zM855 164h2v4h-2zM830 168h3v4h-3zM838 168h3v4h-3zM874 168h3v4h-3zM833 172h3v4h-3zM852 172h5v4h-5zM863 172h3v4h-3zM874 172h3v4h-3zM773 176h2v4h-2zM857 176h6v4h-6zM866 176h2v4h-2zM874 176h3v4h-3zM846 180h3v3h-3zM871 180h3v3h-3zM833 183h5v4h-5zM846 183h3v4h-3zM852 183h3v4h-3zM868 183h6v4h-6zM827 187h3v4h-3zM849 187h3v4h-3zM871 187h6v4h-6zM762 191h3v4h-3zM773 191h2v4h-2zM841 191h3v4h-3zM874 191h3v4h-3zM833 195h3v4h-3zM846 195h3v4h-3z"/>
<path fill="#ffd800" d="M759 68h3v4h-3zM715 79h3v4h-3zM762 79h3v4h-3zM800 79h5v4h-5zM751 83h3v4h-3zM765 83h5v4h-5zM792 83h8v4h-8zM754 87h2v4h-2zM800 87h5v4h-5zM808 87h3v4h-3zM710 91h3v4h-3zM724 91h2v4h-2zM734 91h3v4h-3zM762 91h3v4h-3zM770 91h3v4h-3zM805 91h3v4h-3zM811 91h3v4h-3zM688 95h5v4h-5zM696 95h3v4h-3zM702 95h2v4h-2zM718 95h8v4h-8zM732 95h2v4h-2zM745 95h3v4h-3zM754 95h2v4h-2zM778 95h3v4h-3zM680 99h3v4h-3zM685 99h3v4h-3zM699 99h3v4h-3zM745 99h3v4h-3zM756 99h3v4h-3zM786 99h3v4h-3zM811 99h3v4h-3zM683 103h2v3h-2zM778 103h3v3h-3zM803 103h5v3h-5zM833 103h3v3h-3zM685 106h3v4h-3zM786 106h3v4h-3zM803 106h2v4h-2zM814 106h2v4h-2zM825 106h2v4h-2zM691 110h2v4h-2zM743 110h2v4h-2zM838 110h3v4h-3zM846 110h3v4h-3zM874 110h3v4h-3zM822 114h3v4h-3zM836 114h2v4h-2zM841 114h3v4h-3zM846 114h3v4h-3zM863 114h3v4h-3zM724 118h2v4h-2zM825 118h8v4h-8zM836 118h5v4h-5zM857 118h3v4h-3zM814 122h2v4h-2zM825 122h2v4h-2zM841 122h3v4h-3zM819 126h3v3h-3zM825 126h2v3h-2zM846 126h3v3h-3zM855 126h5v3h-5zM871 126h3v3h-3zM800 129h3v4h-3zM836 129h2v4h-2zM846 129h6v4h-6zM866 129h2v4h-2zM838 133h3v4h-3zM857 133h3v4h-3zM871 133h3v4h-3z"/>
<path fill="#00d316" d="M860 68h3v4h-3zM710 122h5v4h-5zM715 126h3v3h-3zM795 126h2v3h-2zM691 133h2v4h-2zM702 133h2v4h-2zM707 133h8v4h-8zM718 133h3v4h-3zM680 137h3v4h-3zM715 137h3v4h-3zM743 137h5v4h-5zM754 137h5v4h-5zM765 137h2v4h-2zM693 141h9v4h-9zM734 141h3v4h-3zM743 141h2v4h-2zM688 145h3v4h-3zM702 145h2v4h-2zM707 145h3v4h-3zM756 145h6v4h-6zM846 145h3v4h-3zM740 153h3v3h-3zM778 153h3v3h-3zM800 153h3v3h-3zM819 153h3v3h-3zM838 153h6v3h-6zM852 153h3v3h-3zM685 156h3v4h-3zM737 156h3v4h-3zM765 156h2v4h-2zM805 156h3v4h-3zM855 156h2v4h-2zM683 160h2v4h-2zM737 160h3v4h-3zM745 160h6v4h-6zM762 160h3v4h-3zM770 160h3v4h-3zM816 160h3v4h-3zM868 160h3v4h-3zM743 164h5v4h-5zM751 164h3v4h-3zM759 164h3v4h-3zM789 164h3v4h-3zM830 164h3v4h-3zM846 164h6v4h-6zM871 164h3v4h-3zM792 168h3v4h-3zM852 168h3v4h-3zM868 168h3v4h-3zM759 172h3v4h-3zM844 172h5v4h-5zM866 172h2v4h-2zM754 176h2v4h-2zM767 176h6v4h-6zM775 176h3v4h-3zM836 176h2v4h-2zM852 176h3v4h-3zM871 176h3v4h-3zM833 180h3v3h-3zM849 180h3v3h-3zM857 180h6v3h-6zM868 180h3v3h-3zM874 180h3v3h-3zM767 183h6v4h-6zM857 183h3v4h-3zM762 187h3v4h-3zM833 187h3v4h-3zM846 187h3v4h-3zM863 187h3v4h-3zM868 187h3v4h-3zM846 191h3v4h-3zM825 199h2v4h-2z"/>
<path fill="#00ced6" d="M808 72h3v4h-3zM784 76h2v3h-2zM795 91h2v4h-2zM800 91h3v4h-3zM784 95h2v4h-2zM745 106h3v4h-3zM849 110h3v4h-3zM841 126h3v3h-3zM683 168h2v4h-2zM702 168h2v4h-2zM715 168h3v4h-3zM795 168h2v4h-2zM713 172h2v4h-2zM718 172h3v4h-3zM748 172h3v4h-3zM685 176h3v4h-3zM699 176h3v4h-3zM721 176h3v4h-3zM702 180h2v3h-2zM718 180h3v3h-3zM743 180h2v3h-2zM795 180h2v3h-2zM814 180h2v3h-2zM715 183h6v4h-6zM748 183h6v4h-6zM756 183h3v4h-3zM786 183h3v4h-3zM680 187h3v4h-3zM696 187h3v4h-3zM786 187h3v4h-3zM680 191h3v4h-3zM688 191h3v4h-3zM721 191h13v4h-13zM803 191h2v4h-2zM713 195h2v4h-2zM732 195h5v4h-5zM751 195h3v4h-3zM778 195h3v4h-3zM827 195h3v4h-3zM696 199h3v4h-3zM702 199h2v4h-2zM707 199h6v4h-6zM718 199h6v4h-6zM729 199h3v4h-3zM748 199h3v4h-3zM762 199h3v4h-3zM773 199h2v4h-2zM784 199h2v4h-2zM789 199h3v4h-3zM795 199h8v4h-8zM805 199h3v4h-3zM811 199h3v4h-3zM819 199h3v4h-3zM844 199h2v4h-2zM855 199h2v4h-2zM860 199h3v4h-3zM868 199h3v4h-3zM816 203h3v4h-3zM838 203h6v4h-6zM846 203h3v4h-3zM866 203h2v4h-2zM871 203h3v4h-3zM762 207h3v3h-3zM767 207h6v3h-6zM775 207h3v3h-3zM797 207h6v3h-6zM748 210h3v4h-3zM756 210h3v4h-3zM767 210h3v4h-3zM786 210h3v4h-3zM852 210h3v4h-3zM857 210h3v4h-3zM778 214h3v4h-3zM784 214h2v4h-2zM754 218h2v4h-2zM781 218h3v4h-3z"/>
<path fill="#0031cd" d="M868 72h3v4h-3zM685 195h3v4h-3zM803 207h2v3h-2zM704 214h3v4h-3zM715 222h3v4h-3zM811 222h3v4h-3zM685 226h3v4h-3zM715 226h3v4h-3zM743 226h2v4h-2zM808 226h3v4h-3zM874 226h3v4h-3zM721 230h3v4h-3zM734 230h3v4h-3zM756 230h3v4h-3zM784 230h2v4h-2zM792 230h3v4h-3zM803 230h2v4h-2zM814 230h2v4h-2zM745 234h3v3h-3zM751 234h3v3h-3zM759 234h3v3h-3zM765 234h5v3h-5zM773 234h2v3h-2zM860 234h3v3h-3zM868 234h3v3h-3zM693 237h3v4h-3zM718 237h3v4h-3zM734 237h3v4h-3zM805 237h3v4h-3zM866 237h2v4h-2zM874 237h3v4h-3zM683 241h8v4h-8zM702 241h5v4h-5zM724 241h2v4h-2zM737 241h3v4h-3zM866 241h2v4h-2zM683 245h2v4h-2zM704 245h3v4h-3zM721 245h3v4h-3zM745 245h3v4h-3zM825 245h2v4h-2zM830 245h3v4h-3zM699 249h3v4h-3zM713 249h2v4h-2zM726 249h3v4h-3zM699 253h3v4h-3zM710 253h3v4h-3zM726 253h3v4h-3zM732 253h5v4h-5zM743 253h2v4h-2zM691 257h2v4h-2zM721 257h5v4h-5zM732 257h2v4h-2zM745 257h3v4h-3zM713 261h2v3h-2zM732 261h2v3h-2zM740 261h8v3h-8zM699 264h3v1h-3zM724 264h2v1h-2zM737 264h3v1h-3zM745 264h3v1h-3z"/>
<path fill="#f8e800" d="M704 76h3v3h-3zM800 83h5v4h-5zM811 83h3v4h-3zM792 87h3v4h-3zM683 91h2v4h-2zM718 91h3v4h-3zM789 91h6v4h-6zM814 91h2v4h-2zM707 95h3v4h-3zM729 95h3v4h-3zM765 95h5v4h-5zM773 95h2v4h-2zM795 95h5v4h-5zM805 95h3v4h-3zM688 99h3v4h-3zM693 99h3v4h-3zM710 99h3v4h-3zM715 99h3v4h-3zM734 99h6v4h-6zM775 99h9v4h-9zM805 99h3v4h-3zM816 99h3v4h-3zM685 103h8v3h-8zM743 103h2v3h-2zM754 103h5v3h-5zM762 103h3v3h-3zM784 103h5v3h-5zM811 103h5v3h-5zM729 106h5v4h-5zM743 106h2v4h-2zM756 106h3v4h-3zM688 110h3v4h-3zM748 110h3v4h-3zM754 110h2v4h-2zM770 110h3v4h-3zM784 110h2v4h-2zM808 110h6v4h-6zM830 110h3v4h-3zM726 114h3v4h-3zM737 114h3v4h-3zM805 114h3v4h-3zM827 114h6v4h-6zM683 118h2v4h-2zM748 118h3v4h-3zM759 118h3v4h-3zM797 118h3v4h-3zM811 118h3v4h-3zM871 118h3v4h-3zM729 122h3v4h-3zM795 122h2v4h-2zM819 122h3v4h-3zM844 122h2v4h-2zM849 122h3v4h-3zM863 122h3v4h-3zM833 126h3v3h-3zM860 126h3v3h-3zM866 126h2v3h-2zM874 126h3v3h-3zM786 129h3v4h-3zM792 129h3v4h-3zM805 129h3v4h-3zM825 129h2v4h-2zM833 129h3v4h-3zM857 129h3v4h-3zM863 129h3v4h-3zM868 129h3v4h-3zM874 129h3v4h-3zM808 133h3v4h-3zM819 133h3v4h-3zM833 133h3v4h-3zM841 133h5v4h-5zM866 133h2v4h-2zM808 137h3v4h-3zM814 137h2v4h-2zM825 137h5v4h-5zM844 137h2v4h-2zM852 137h3v4h-3z"/>
<path fill="#f0f500" d="M713 79h2v4h-2zM680 91h3v4h-3zM715 95h3v4h-3zM726 95h3v4h-3zM751 95h3v4h-3zM786 95h3v4h-3zM811 95h3v4h-3zM691 99h2v4h-2zM696 99h3v4h-3zM748 99h6v4h-6zM762 99h3v4h-3zM767 99h8v4h-8zM792 99h5v4h-5zM707 103h8v3h-8zM718 103h3v3h-3zM724 103h5v3h-5zM767 103h6v3h-6zM789 103h3v3h-3zM696 106h8v4h-8zM713 106h5v4h-5zM721 106h3v4h-3zM737 106h3v4h-3zM775 106h3v4h-3zM781 106h3v4h-3zM792 106h3v4h-3zM797 106h3v4h-3zM680 110h3v4h-3zM685 110h3v4h-3zM751 110h3v4h-3zM775 110h3v4h-3zM786 110h6v4h-6zM833 110h3v4h-3zM702 114h2v4h-2zM745 114h3v4h-3zM762 114h3v4h-3zM778 114h3v4h-3zM803 114h2v4h-2zM726 118h3v4h-3zM734 118h3v4h-3zM803 118h2v4h-2zM699 122h3v4h-3zM756 122h3v4h-3zM838 122h3v4h-3zM860 122h3v4h-3zM770 126h3v3h-3zM789 126h3v3h-3zM803 126h2v3h-2zM849 126h6v3h-6zM767 129h3v4h-3zM778 129h6v4h-6zM797 129h3v4h-3zM855 129h2v4h-2zM795 133h2v4h-2zM805 133h3v4h-3zM816 133h3v4h-3zM825 133h2v4h-2zM830 133h3v4h-3zM846 133h3v4h-3zM855 133h2v4h-2zM805 137h3v4h-3zM811 137h3v4h-3zM816 137h3v4h-3zM830 137h8v4h-8zM841 137h3v4h-3zM846 137h3v4h-3zM857 137h3v4h-3zM863 137h3v4h-3zM838 141h6v4h-6zM871 141h6v4h-6zM827 145h3v4h-3zM871 160h3v4h-3z"/>
<path fill="#dff900" d="M702 83h2v4h-2zM805 83h3v4h-3zM732 91h2v4h-2zM693 95h3v4h-3zM762 95h3v4h-3zM702 99h5v4h-5zM724 99h5v4h-5zM740 99h5v4h-5zM754 99h2v4h-2zM784 99h2v4h-2zM789 99h3v4h-3zM800 99h3v4h-3zM721 103h3v3h-3zM737 103h3v3h-3zM759 103h3v3h-3zM775 103h3v3h-3zM683 106h2v4h-2zM691 106h2v4h-2zM754 106h2v4h-2zM800 106h3v4h-3zM816 106h3v4h-3zM683 110h2v4h-2zM715 110h3v4h-3zM726 110h3v4h-3zM737 110h3v4h-3zM756 110h3v4h-3zM765 110h5v4h-5zM781 110h3v4h-3zM792 110h3v4h-3zM814 110h2v4h-2zM825 110h2v4h-2zM683 114h2v4h-2zM693 114h3v4h-3zM754 114h2v4h-2zM765 114h2v4h-2zM797 114h3v4h-3zM833 114h3v4h-3zM871 114h3v4h-3zM680 118h3v4h-3zM699 118h3v4h-3zM751 118h3v4h-3zM816 118h3v4h-3zM866 118h2v4h-2zM745 122h3v4h-3zM767 122h3v4h-3zM775 122h3v4h-3zM800 122h3v4h-3zM808 122h3v4h-3zM734 126h3v3h-3zM745 126h3v3h-3zM805 126h3v3h-3zM814 126h5v3h-5zM827 126h6v3h-6zM838 126h3v3h-3zM770 129h5v4h-5zM789 129h3v4h-3zM795 129h2v4h-2zM808 129h3v4h-3zM819 129h6v4h-6zM827 129h6v4h-6zM860 129h3v4h-3zM871 129h3v4h-3zM775 133h3v4h-3zM800 133h3v4h-3zM814 133h2v4h-2zM874 133h3v4h-3zM775 137h6v4h-6zM792 137h3v4h-3zM786 141h3v4h-3zM811 141h5v4h-5zM827 141h3v4h-3zM852 141h3v4h-3zM789 145h3v4h-3zM808 145h3v4h-3zM825 145h2v4h-2zM841 145h3v4h-3zM871 145h3v4h-3z"/>
<path fill="#0059e5" d="M822 83h3v4h-3zM846 95h3v4h-3zM696 129h3v4h-3zM745 149h3v4h-3zM691 156h2v4h-2zM718 156h3v4h-3zM685 168h3v4h-3zM789 168h3v4h-3zM808 168h3v4h-3zM726 172h3v4h-3zM715 176h3v4h-3zM800 180h3v3h-3zM789 187h3v4h-3zM841 187h3v4h-3zM693 207h3v3h-3zM814 210h2v4h-2zM699 214h3v4h-3zM710 214h3v4h-3zM825 214h2v4h-2zM718 218h3v4h-3zM729 218h3v4h-3zM808 218h6v4h-6zM734 222h3v4h-3zM745 222h3v4h-3zM808 222h3v4h-3zM814 222h2v4h-2zM819 222h3v4h-3zM871 222h3v4h-3zM680 226h5v4h-5zM691 226h2v4h-2zM724 226h2v4h-2zM732 226h2v4h-2zM748 226h3v4h-3zM786 226h3v4h-3zM795 226h2v4h-2zM822 226h3v4h-3zM871 226h3v4h-3zM729 230h3v4h-3zM740 230h3v4h-3zM748 230h3v4h-3zM759 230h3v4h-3zM863 230h3v4h-3zM836 237h2v4h-2zM718 241h3v4h-3zM849 241h3v4h-3zM710 245h3v4h-3zM715 245h3v4h-3zM743 249h2v4h-2z"/>
<path fill="#00099d" d="M827 83h3v4h-3zM822 103h3v3h-3zM805 122h3v4h-3zM710 145h3v4h-3zM778 145h3v4h-3zM781 164h3v4h-3zM803 172h2v4h-2zM707 183h3v4h-3zM756 187h3v4h-3zM691 191h2v4h-2zM699 191h3v4h-3zM767 195h3v4h-3zM754 199h2v4h-2zM680 207h3v3h-3zM759 210h3v4h-3zM800 214h3v4h-3zM770 222h3v4h-3zM784 222h2v4h-2zM765 226h2v4h-2zM696 230h3v4h-3zM704 230h3v4h-3zM751 230h3v4h-3zM770 230h3v4h-3zM786 230h3v4h-3zM816 230h3v4h-3zM710 234h3v3h-3zM762 234h3v3h-3zM786 234h3v3h-3zM680 237h3v4h-3zM691 237h2v4h-2zM702 237h2v4h-2zM767 237h3v4h-3zM775 237h3v4h-3zM784 237h2v4h-2zM789 237h6v4h-6zM797 237h8v4h-8zM808 237h8v4h-8zM868 237h3v4h-3zM756 241h3v4h-3zM762 241h5v4h-5zM770 241h3v4h-3zM775 241h3v4h-3zM786 241h3v4h-3zM797 241h3v4h-3zM805 241h3v4h-3zM814 241h5v4h-5zM693 245h3v4h-3zM754 245h2v4h-2zM800 245h5v4h-5zM808 245h3v4h-3zM814 245h2v4h-2zM841 245h3v4h-3zM852 245h3v4h-3zM860 245h3v4h-3zM868 245h9v4h-9zM710 249h3v4h-3zM754 249h2v4h-2zM822 249h3v4h-3zM836 249h2v4h-2zM863 249h11v4h-11zM781 253h3v4h-3zM830 253h3v4h-3zM836 253h5v4h-5zM863 253h3v4h-3zM868 253h3v4h-3zM748 257h6v4h-6zM808 257h3v4h-3zM836 257h2v4h-2zM841 257h5v4h-5zM855 257h2v4h-2zM868 257h3v4h-3zM704 261h3v3h-3zM751 261h3v3h-3zM792 261h3v3h-3zM825 261h2v3h-2zM830 261h3v3h-3zM836 261h2v3h-2zM852 261h3v3h-3zM685 264h3v1h-3zM718 264h3v1h-3zM751 264h3v1h-3zM827 264h3v1h-3zM838 264h3v1h-3zM855 264h2v1h-2zM866 264h5v1h-5z"/>
<path fill="#00c7ea" d="M833 83h3v4h-3zM696 103h3v3h-3zM805 110h3v4h-3zM759 126h3v3h-3zM792 133h3v4h-3zM784 149h2v4h-2zM699 168h3v4h-3zM734 172h3v4h-3zM751 172h3v4h-3zM710 176h3v4h-3zM737 176h3v4h-3zM784 176h2v4h-2zM683 180h2v3h-2zM688 180h3v3h-3zM743 183h2v4h-2zM822 183h3v4h-3zM685 187h3v4h-3zM710 187h3v4h-3zM822 187h3v4h-3zM702 191h2v4h-2zM781 191h3v4h-3zM786 191h3v4h-3zM680 195h5v4h-5zM707 195h3v4h-3zM721 195h8v4h-8zM737 195h3v4h-3zM745 195h3v4h-3zM814 195h5v4h-5zM680 199h3v4h-3zM688 199h3v4h-3zM724 199h2v4h-2zM740 199h5v4h-5zM808 199h3v4h-3zM704 203h3v4h-3zM713 203h2v4h-2zM718 203h3v4h-3zM732 203h2v4h-2zM759 203h3v4h-3zM767 203h3v4h-3zM795 203h2v4h-2zM814 203h2v4h-2zM819 203h3v4h-3zM827 203h3v4h-3zM857 203h3v4h-3zM874 203h3v4h-3zM756 207h3v3h-3zM765 207h2v3h-2zM781 207h3v3h-3zM789 207h6v3h-6zM838 207h3v3h-3zM849 207h6v3h-6zM762 210h3v4h-3zM833 210h3v4h-3zM855 210h2v4h-2zM863 210h3v4h-3zM765 214h2v4h-2zM773 214h2v4h-2zM781 214h3v4h-3zM789 214h3v4h-3zM857 214h3v4h-3zM748 218h3v4h-3zM838 226h3v4h-3zM691 230h2v4h-2zM836 230h2v4h-2z"/>
<path fill="#c8fa00" d="M868 83h3v4h-3zM680 95h3v4h-3zM737 95h3v4h-3zM803 95h2v4h-2zM721 99h3v4h-3zM729 99h3v4h-3zM759 99h3v4h-3zM699 103h5v3h-5zM715 103h3v3h-3zM732 103h2v3h-2zM740 103h3v3h-3zM745 103h3v3h-3zM773 103h2v3h-2zM680 106h3v4h-3zM718 106h3v4h-3zM724 106h2v4h-2zM751 106h3v4h-3zM770 106h3v4h-3zM778 106h3v4h-3zM784 106h2v4h-2zM795 106h2v4h-2zM808 106h3v4h-3zM693 110h3v4h-3zM729 110h3v4h-3zM778 110h3v4h-3zM795 110h5v4h-5zM707 114h3v4h-3zM718 114h3v4h-3zM729 114h3v4h-3zM751 114h3v4h-3zM759 114h3v4h-3zM770 114h3v4h-3zM800 114h3v4h-3zM808 114h3v4h-3zM814 114h5v4h-5zM691 118h2v4h-2zM732 118h2v4h-2zM737 118h3v4h-3zM743 118h5v4h-5zM775 118h3v4h-3zM781 118h3v4h-3zM696 122h3v4h-3zM721 122h3v4h-3zM762 122h3v4h-3zM792 122h3v4h-3zM811 122h3v4h-3zM718 126h3v3h-3zM748 126h6v3h-6zM775 126h3v3h-3zM800 126h3v3h-3zM808 126h3v3h-3zM822 126h3v3h-3zM737 129h3v4h-3zM743 129h2v4h-2zM759 129h3v4h-3zM775 129h3v4h-3zM803 129h2v4h-2zM811 129h3v4h-3zM773 133h2v4h-2zM784 133h2v4h-2zM803 133h2v4h-2zM811 133h3v4h-3zM852 133h3v4h-3zM860 133h6v4h-6zM868 133h3v4h-3zM784 137h2v4h-2zM822 137h3v4h-3zM868 137h3v4h-3zM795 141h2v4h-2zM803 141h2v4h-2zM836 141h2v4h-2zM846 141h3v4h-3zM855 141h2v4h-2zM866 141h2v4h-2zM811 145h3v4h-3zM822 145h3v4h-3zM833 145h5v4h-5zM874 145h3v4h-3zM849 149h3v4h-3zM855 149h5v4h-5zM816 153h3v3h-3zM811 156h3v4h-3zM838 156h3v4h-3z"/>
<path fill="#87f600" d="M713 99h2v4h-2zM795 103h2v3h-2zM707 106h3v4h-3zM734 106h3v4h-3zM767 106h3v4h-3zM773 106h2v4h-2zM699 110h3v4h-3zM707 110h8v4h-8zM718 110h3v4h-3zM745 110h3v4h-3zM800 110h5v4h-5zM721 114h3v4h-3zM748 114h3v4h-3zM775 114h3v4h-3zM685 118h3v4h-3zM696 118h3v4h-3zM702 118h2v4h-2zM710 118h3v4h-3zM715 118h3v4h-3zM754 118h2v4h-2zM784 118h5v4h-5zM685 122h3v4h-3zM693 122h3v4h-3zM726 122h3v4h-3zM734 122h3v4h-3zM786 122h6v4h-6zM685 126h6v3h-6zM702 126h2v3h-2zM743 126h2v3h-2zM754 126h2v3h-2zM762 126h5v3h-5zM778 126h3v3h-3zM784 126h2v3h-2zM685 129h3v4h-3zM699 129h3v4h-3zM707 129h3v4h-3zM713 129h2v4h-2zM729 129h3v4h-3zM734 129h3v4h-3zM756 129h3v4h-3zM784 129h2v4h-2zM729 133h3v4h-3zM737 133h3v4h-3zM762 133h3v4h-3zM767 133h3v4h-3zM778 133h3v4h-3zM822 133h3v4h-3zM693 137h3v4h-3zM748 137h3v4h-3zM762 137h3v4h-3zM770 137h3v4h-3zM803 137h2v4h-2zM838 137h3v4h-3zM849 137h3v4h-3zM860 137h3v4h-3zM866 137h2v4h-2zM871 137h3v4h-3zM745 141h3v4h-3zM770 141h3v4h-3zM775 141h3v4h-3zM816 141h6v4h-6zM833 141h3v4h-3zM849 141h3v4h-3zM795 145h5v4h-5zM844 145h2v4h-2zM849 145h3v4h-3zM860 145h3v4h-3zM866 145h2v4h-2zM805 149h6v4h-6zM814 149h2v4h-2zM827 149h3v4h-3zM838 149h6v4h-6zM852 149h3v4h-3zM871 149h3v4h-3zM833 153h3v3h-3zM860 153h8v3h-8zM871 172h3v4h-3zM852 180h3v3h-3z"/>
<path fill="#00d0c1" d="M765 99h2v4h-2zM688 122h3v4h-3zM688 156h3v4h-3zM773 156h2v4h-2zM724 160h2v4h-2zM688 164h3v4h-3zM710 164h3v4h-3zM819 164h3v4h-3zM710 168h3v4h-3zM729 168h5v4h-5zM816 168h3v4h-3zM680 172h3v4h-3zM696 172h3v4h-3zM729 172h3v4h-3zM825 172h2v4h-2zM693 176h6v4h-6zM713 176h2v4h-2zM718 176h3v4h-3zM726 176h3v4h-3zM743 176h2v4h-2zM803 176h2v4h-2zM816 176h3v4h-3zM680 180h3v3h-3zM693 180h3v3h-3zM732 180h2v3h-2zM737 180h6v3h-6zM781 180h3v3h-3zM811 180h3v3h-3zM680 183h5v4h-5zM704 183h3v4h-3zM740 183h3v4h-3zM784 183h2v4h-2zM792 183h3v4h-3zM819 183h3v4h-3zM702 187h2v4h-2zM718 187h3v4h-3zM729 187h3v4h-3zM737 187h3v4h-3zM745 187h3v4h-3zM781 187h5v4h-5zM800 187h3v4h-3zM805 187h3v4h-3zM816 187h3v4h-3zM696 191h3v4h-3zM710 191h5v4h-5zM718 191h3v4h-3zM734 191h6v4h-6zM751 191h3v4h-3zM778 191h3v4h-3zM816 191h3v4h-3zM691 195h2v4h-2zM702 195h2v4h-2zM754 195h8v4h-8zM781 195h8v4h-8zM795 195h2v4h-2zM803 195h2v4h-2zM808 195h3v4h-3zM822 195h3v4h-3zM713 199h2v4h-2zM751 199h3v4h-3zM803 199h2v4h-2zM827 199h3v4h-3zM693 203h3v4h-3zM751 203h3v4h-3zM773 203h5v4h-5zM781 203h5v4h-5zM792 203h3v4h-3zM822 203h3v4h-3zM830 203h3v4h-3zM849 203h3v4h-3zM784 207h5v3h-5zM795 207h2v3h-2zM836 207h2v3h-2zM773 210h2v4h-2zM784 210h2v4h-2zM792 210h3v4h-3zM754 214h2v4h-2zM786 214h3v4h-3zM773 218h5v4h-5zM775 222h3v4h-3z"/>
<path fill="#acfa00" d="M734 103h3v3h-3zM748 103h6v3h-6zM800 103h3v3h-3zM704 106h3v4h-3zM710 106h3v4h-3zM726 106h3v4h-3zM740 106h3v4h-3zM759 106h8v4h-8zM789 106h3v4h-3zM696 110h3v4h-3zM704 110h3v4h-3zM721 110h5v4h-5zM732 110h5v4h-5zM740 110h3v4h-3zM762 110h3v4h-3zM773 110h2v4h-2zM819 110h3v4h-3zM680 114h3v4h-3zM685 114h3v4h-3zM691 114h2v4h-2zM696 114h6v4h-6zM732 114h5v4h-5zM740 114h5v4h-5zM767 114h3v4h-3zM781 114h5v4h-5zM789 114h3v4h-3zM795 114h2v4h-2zM688 118h3v4h-3zM704 118h3v4h-3zM729 118h3v4h-3zM740 118h3v4h-3zM756 118h3v4h-3zM762 118h3v4h-3zM770 118h5v4h-5zM795 118h2v4h-2zM805 118h3v4h-3zM822 118h3v4h-3zM724 122h2v4h-2zM732 122h2v4h-2zM737 122h3v4h-3zM765 122h2v4h-2zM784 122h2v4h-2zM797 122h3v4h-3zM726 126h3v3h-3zM732 126h2v3h-2zM737 126h3v3h-3zM773 126h2v3h-2zM732 129h2v4h-2zM745 129h3v4h-3zM762 129h3v4h-3zM814 129h2v4h-2zM759 133h3v4h-3zM765 133h2v4h-2zM781 133h3v4h-3zM786 133h6v4h-6zM797 133h3v4h-3zM827 133h3v4h-3zM849 133h3v4h-3zM781 137h3v4h-3zM789 137h3v4h-3zM795 137h8v4h-8zM800 141h3v4h-3zM805 141h3v4h-3zM825 141h2v4h-2zM830 141h3v4h-3zM860 141h3v4h-3zM775 145h3v4h-3zM781 145h3v4h-3zM805 145h3v4h-3zM814 145h5v4h-5zM838 145h3v4h-3zM855 145h5v4h-5zM863 145h3v4h-3zM868 145h3v4h-3zM811 149h3v4h-3zM830 149h3v4h-3zM863 149h3v4h-3zM830 153h3v3h-3zM836 153h2v3h-2zM868 153h3v3h-3zM874 153h3v3h-3zM852 156h3v4h-3zM863 156h3v4h-3zM871 156h3v4h-3zM852 160h3v4h-3zM852 164h3v4h-3zM857 168h3v4h-3zM871 168h3v4h-3zM863 176h3v4h-3z"/>
<path fill="#003bd4" d="M765 103h2v3h-2zM800 118h3v4h-3zM693 126h3v3h-3zM855 137h2v4h-2zM704 153h3v3h-3zM740 164h3v4h-3zM713 214h2v4h-2zM814 214h5v4h-5zM699 218h3v4h-3zM704 218h3v4h-3zM713 218h2v4h-2zM721 218h3v4h-3zM691 222h5v4h-5zM702 222h2v4h-2zM713 222h2v4h-2zM724 222h2v4h-2zM740 222h3v4h-3zM693 226h3v4h-3zM683 230h2v4h-2zM743 230h2v4h-2zM775 230h3v4h-3zM781 230h3v4h-3zM795 230h2v4h-2zM800 230h3v4h-3zM819 230h3v4h-3zM860 230h3v4h-3zM866 230h8v4h-8zM685 234h3v3h-3zM721 234h3v3h-3zM737 234h3v3h-3zM756 234h3v3h-3zM863 234h3v3h-3zM707 237h3v4h-3zM726 237h3v4h-3zM732 237h2v4h-2zM743 237h2v4h-2zM863 237h3v4h-3zM707 241h11v4h-11zM726 241h3v4h-3zM743 241h2v4h-2zM830 241h6v4h-6zM846 241h3v4h-3zM852 241h3v4h-3zM857 241h3v4h-3zM685 245h3v4h-3zM713 245h2v4h-2zM732 245h2v4h-2zM743 245h2v4h-2zM838 245h3v4h-3zM688 249h3v4h-3zM718 249h3v4h-3zM724 249h2v4h-2zM729 249h3v4h-3zM734 249h6v4h-6zM745 249h3v4h-3zM693 253h3v4h-3zM721 253h3v4h-3zM729 253h3v4h-3zM680 257h3v4h-3zM699 257h3v4h-3zM734 257h3v4h-3zM691 261h2v3h-2zM680 264h5v1h-5zM688 264h3v1h-3zM702 264h2v1h-2zM726 264h3v1h-3z"/>
<path fill="#0017b1" d="M792 103h3v3h-3zM808 103h3v3h-3zM874 122h3v4h-3zM699 133h3v4h-3zM770 133h3v4h-3zM724 203h2v4h-2zM762 214h3v4h-3zM756 222h3v4h-3zM696 226h3v4h-3zM805 226h3v4h-3zM680 230h3v4h-3zM688 230h3v4h-3zM713 230h2v4h-2zM718 230h3v4h-3zM732 230h2v4h-2zM811 230h3v4h-3zM704 234h3v3h-3zM781 234h3v3h-3zM789 234h3v3h-3zM811 234h3v3h-3zM816 234h3v3h-3zM688 237h3v4h-3zM699 237h3v4h-3zM713 237h5v4h-5zM781 237h3v4h-3zM795 237h2v4h-2zM841 237h3v4h-3zM693 241h6v4h-6zM751 241h5v4h-5zM800 241h3v4h-3zM751 245h3v4h-3zM819 245h3v4h-3zM680 249h3v4h-3zM691 249h2v4h-2zM696 249h3v4h-3zM702 249h5v4h-5zM732 249h2v4h-2zM825 249h2v4h-2zM830 249h3v4h-3zM841 249h3v4h-3zM855 249h2v4h-2zM683 253h5v4h-5zM691 253h2v4h-2zM696 253h3v4h-3zM702 253h2v4h-2zM693 257h6v4h-6zM707 257h3v4h-3zM726 257h3v4h-3zM685 261h3v3h-3zM696 261h6v3h-6zM710 261h3v3h-3zM729 261h3v3h-3z"/>
<path fill="#001fbc" d="M786 114h3v4h-3zM773 122h2v4h-2zM822 141h3v4h-3zM729 195h3v4h-3zM696 222h3v4h-3zM710 222h3v4h-3zM688 226h3v4h-3zM702 226h2v4h-2zM710 226h3v4h-3zM814 226h2v4h-2zM702 230h2v4h-2zM710 230h3v4h-3zM724 230h2v4h-2zM797 230h3v4h-3zM874 230h3v4h-3zM683 234h2v3h-2zM688 234h3v3h-3zM770 234h3v3h-3zM775 234h3v3h-3zM874 234h3v3h-3zM710 237h3v4h-3zM729 237h3v4h-3zM748 237h3v4h-3zM754 237h2v4h-2zM816 237h3v4h-3zM871 237h3v4h-3zM699 241h3v4h-3zM748 241h3v4h-3zM863 241h3v4h-3zM688 245h5v4h-5zM724 245h5v4h-5zM816 245h3v4h-3zM849 245h3v4h-3zM693 249h3v4h-3zM838 249h3v4h-3zM844 249h2v4h-2zM680 253h3v4h-3zM704 253h3v4h-3zM713 253h2v4h-2zM724 253h2v4h-2zM745 253h6v4h-6zM685 257h3v4h-3zM715 257h3v4h-3zM729 257h3v4h-3zM743 257h2v4h-2zM683 261h2v3h-2zM688 261h3v3h-3zM715 261h3v3h-3zM721 261h5v3h-5zM713 264h5v1h-5zM740 264h3v1h-3z"/>
<path fill="#0027c6" d="M819 118h3v4h-3zM759 160h3v4h-3zM710 218h3v4h-3zM699 222h3v4h-3zM718 222h6v4h-6zM699 226h3v4h-3zM704 226h3v4h-3zM713 226h2v4h-2zM721 226h3v4h-3zM800 226h3v4h-3zM811 226h3v4h-3zM816 226h3v4h-3zM685 230h3v4h-3zM715 230h3v4h-3zM726 230h3v4h-3zM805 230h3v4h-3zM691 234h2v3h-2zM715 234h6v3h-6zM726 234h3v3h-3zM748 234h3v3h-3zM754 234h2v3h-2zM778 234h3v3h-3zM784 234h2v3h-2zM866 234h2v3h-2zM871 234h3v3h-3zM683 237h5v4h-5zM696 237h3v4h-3zM745 237h3v4h-3zM751 237h3v4h-3zM773 237h2v4h-2zM819 237h3v4h-3zM857 237h3v4h-3zM680 241h3v4h-3zM729 241h3v4h-3zM745 241h3v4h-3zM822 241h5v4h-5zM844 241h2v4h-2zM860 241h3v4h-3zM680 245h3v4h-3zM696 245h3v4h-3zM702 245h2v4h-2zM707 245h3v4h-3zM822 245h3v4h-3zM827 245h3v4h-3zM833 245h3v4h-3zM844 245h5v4h-5zM855 245h5v4h-5zM683 249h5v4h-5zM833 249h3v4h-3zM688 253h3v4h-3zM718 253h3v4h-3zM737 253h3v4h-3zM713 257h2v4h-2zM718 257h3v4h-3zM737 257h3v4h-3zM702 261h2v3h-2zM707 261h3v3h-3zM726 261h3v3h-3zM734 261h6v3h-6zM691 264h8v1h-8zM707 264h3v1h-3zM721 264h3v1h-3zM729 264h5v1h-5zM743 264h2v1h-2z"/>
<path fill="#00c36c" d="M683 129h2v4h-2zM718 129h3v4h-3zM691 137h2v4h-2zM696 137h3v4h-3zM710 137h3v4h-3zM726 137h3v4h-3zM683 141h2v4h-2zM688 141h3v4h-3zM710 141h3v4h-3zM732 141h2v4h-2zM699 145h3v4h-3zM704 145h3v4h-3zM740 145h8v4h-8zM688 149h3v4h-3zM713 149h2v4h-2zM724 149h2v4h-2zM748 149h3v4h-3zM683 153h10v3h-10zM702 153h2v3h-2zM718 153h3v3h-3zM726 153h3v3h-3zM748 153h3v3h-3zM762 153h5v3h-5zM781 153h3v3h-3zM683 156h2v4h-2zM696 156h3v4h-3zM710 156h3v4h-3zM715 156h3v4h-3zM726 156h6v4h-6zM743 156h2v4h-2zM781 156h3v4h-3zM814 156h2v4h-2zM693 160h3v4h-3zM702 160h2v4h-2zM710 160h3v4h-3zM721 160h3v4h-3zM732 160h2v4h-2zM740 160h3v4h-3zM789 160h6v4h-6zM803 160h2v4h-2zM699 164h3v4h-3zM726 164h3v4h-3zM734 164h3v4h-3zM748 164h3v4h-3zM762 164h3v4h-3zM767 164h3v4h-3zM784 164h2v4h-2zM797 164h3v4h-3zM811 164h5v4h-5zM688 168h3v4h-3zM751 168h3v4h-3zM775 168h3v4h-3zM784 168h5v4h-5zM819 168h8v4h-8zM688 172h3v4h-3zM732 172h2v4h-2zM767 172h3v4h-3zM775 172h3v4h-3zM797 172h6v4h-6zM814 172h8v4h-8zM795 176h2v4h-2zM805 176h3v4h-3zM827 176h3v4h-3zM855 176h2v4h-2zM685 180h3v3h-3zM710 180h3v3h-3zM734 180h3v3h-3zM751 180h3v3h-3zM773 180h2v3h-2zM803 180h2v3h-2zM729 183h3v4h-3zM737 183h3v4h-3zM759 183h3v4h-3zM775 183h6v4h-6zM805 183h3v4h-3zM816 183h3v4h-3zM855 183h2v4h-2zM874 183h3v4h-3zM704 187h3v4h-3zM770 187h3v4h-3zM825 187h2v4h-2zM855 187h2v4h-2zM683 191h2v4h-2zM707 191h3v4h-3zM800 191h3v4h-3zM844 191h2v4h-2zM819 195h3v4h-3zM844 195h2v4h-2zM767 199h3v4h-3zM836 199h2v4h-2z"/>
<path fill="#00c533" d="M721 129h3v4h-3zM721 133h3v4h-3zM732 133h2v4h-2zM740 133h3v4h-3zM685 137h3v4h-3zM699 137h5v4h-5zM713 137h2v4h-2zM718 137h3v4h-3zM732 137h2v4h-2zM737 137h3v4h-3zM751 137h3v4h-3zM759 137h3v4h-3zM691 141h2v4h-2zM726 141h6v4h-6zM737 141h6v4h-6zM754 141h2v4h-2zM767 141h3v4h-3zM683 145h2v4h-2zM715 145h3v4h-3zM729 145h3v4h-3zM737 145h3v4h-3zM748 145h3v4h-3zM754 145h2v4h-2zM784 145h2v4h-2zM685 149h3v4h-3zM691 149h2v4h-2zM726 149h3v4h-3zM740 149h3v4h-3zM751 149h5v4h-5zM759 149h3v4h-3zM781 149h3v4h-3zM797 149h3v4h-3zM721 153h3v3h-3zM737 153h3v3h-3zM754 153h8v3h-8zM773 153h2v3h-2zM732 156h5v4h-5zM740 156h3v4h-3zM745 156h3v4h-3zM754 156h5v4h-5zM767 156h3v4h-3zM775 156h6v4h-6zM819 156h3v4h-3zM718 160h3v4h-3zM754 160h2v4h-2zM765 160h2v4h-2zM778 160h3v4h-3zM784 160h2v4h-2zM795 160h2v4h-2zM800 160h3v4h-3zM808 160h3v4h-3zM822 160h3v4h-3zM844 160h2v4h-2zM855 160h2v4h-2zM773 164h2v4h-2zM805 164h3v4h-3zM827 164h3v4h-3zM836 164h2v4h-2zM863 164h3v4h-3zM691 168h2v4h-2zM737 168h6v4h-6zM745 168h3v4h-3zM767 168h3v4h-3zM827 168h3v4h-3zM849 168h3v4h-3zM770 172h3v4h-3zM827 172h6v4h-6zM724 176h2v4h-2zM762 176h3v4h-3zM830 176h3v4h-3zM838 176h3v4h-3zM756 180h6v3h-6zM775 180h3v3h-3zM797 180h3v3h-3zM841 180h3v3h-3zM693 183h3v4h-3zM773 183h2v4h-2zM841 183h3v4h-3zM863 183h5v4h-5zM773 187h2v4h-2zM844 187h2v4h-2zM852 187h3v4h-3zM866 187h2v4h-2zM827 191h3v4h-3zM833 191h3v4h-3zM838 191h3v4h-3zM849 191h3v4h-3zM860 195h6v4h-6zM868 195h3v4h-3zM852 199h3v4h-3z"/>
<path fill="#00c350" d="M688 133h3v4h-3zM721 137h3v4h-3zM729 137h3v4h-3zM680 141h3v4h-3zM707 141h3v4h-3zM715 141h3v4h-3zM724 141h2v4h-2zM748 141h3v4h-3zM680 145h3v4h-3zM685 145h3v4h-3zM696 145h3v4h-3zM724 145h2v4h-2zM762 145h3v4h-3zM683 149h2v4h-2zM693 149h3v4h-3zM737 149h3v4h-3zM770 149h3v4h-3zM775 149h3v4h-3zM693 153h6v3h-6zM745 153h3v3h-3zM751 153h3v3h-3zM775 153h3v3h-3zM789 153h3v3h-3zM680 156h3v4h-3zM702 156h2v4h-2zM724 156h2v4h-2zM751 156h3v4h-3zM784 156h2v4h-2zM800 156h5v4h-5zM825 156h2v4h-2zM696 160h3v4h-3zM751 160h3v4h-3zM773 160h5v4h-5zM781 160h3v4h-3zM797 160h3v4h-3zM805 160h3v4h-3zM838 160h3v4h-3zM680 164h3v4h-3zM732 164h2v4h-2zM754 164h2v4h-2zM803 164h2v4h-2zM822 164h3v4h-3zM857 164h3v4h-3zM713 168h2v4h-2zM748 168h3v4h-3zM754 168h2v4h-2zM765 168h2v4h-2zM770 168h5v4h-5zM778 168h3v4h-3zM811 168h5v4h-5zM773 172h2v4h-2zM781 176h3v4h-3zM811 176h5v4h-5zM825 176h2v4h-2zM841 176h3v4h-3zM849 176h3v4h-3zM868 176h3v4h-3zM767 180h6v3h-6zM778 180h3v3h-3zM827 180h3v3h-3zM838 180h3v3h-3zM855 180h2v3h-2zM762 183h3v4h-3zM825 183h2v4h-2zM830 183h3v4h-3zM838 183h3v4h-3zM844 183h2v4h-2zM860 183h3v4h-3zM715 187h3v4h-3zM765 187h2v4h-2zM830 187h3v4h-3zM836 187h2v4h-2zM860 187h3v4h-3zM767 191h3v4h-3zM836 191h2v4h-2zM855 191h2v4h-2zM860 191h6v4h-6zM868 191h3v4h-3zM773 195h2v4h-2zM857 195h3v4h-3zM814 199h2v4h-2zM866 199h2v4h-2z"/>
<path fill="#00c582" d="M704 137h3v4h-3zM691 145h2v4h-2zM718 145h6v4h-6zM732 145h2v4h-2zM702 149h8v4h-8zM718 149h6v4h-6zM707 153h3v3h-3zM715 153h3v3h-3zM729 153h8v3h-8zM743 153h2v3h-2zM784 153h2v3h-2zM693 156h3v4h-3zM713 156h2v4h-2zM721 156h3v4h-3zM762 156h3v4h-3zM789 156h3v4h-3zM680 160h3v4h-3zM685 160h3v4h-3zM704 160h3v4h-3zM713 160h2v4h-2zM726 160h3v4h-3zM743 160h2v4h-2zM825 160h2v4h-2zM683 164h2v4h-2zM693 164h3v4h-3zM707 164h3v4h-3zM715 164h3v4h-3zM737 164h3v4h-3zM756 164h3v4h-3zM770 164h3v4h-3zM795 164h2v4h-2zM808 164h3v4h-3zM816 164h3v4h-3zM696 168h3v4h-3zM743 168h2v4h-2zM781 168h3v4h-3zM797 168h3v4h-3zM805 168h3v4h-3zM846 168h3v4h-3zM691 172h2v4h-2zM737 172h6v4h-6zM762 172h5v4h-5zM792 172h3v4h-3zM805 172h3v4h-3zM811 172h3v4h-3zM822 172h3v4h-3zM683 176h2v4h-2zM691 176h2v4h-2zM702 176h2v4h-2zM732 176h2v4h-2zM756 176h6v4h-6zM765 176h2v4h-2zM778 176h3v4h-3zM792 176h3v4h-3zM819 176h3v4h-3zM696 180h6v3h-6zM707 180h3v3h-3zM721 180h3v3h-3zM745 180h3v3h-3zM825 180h2v3h-2zM866 180h2v3h-2zM685 183h3v4h-3zM696 183h3v4h-3zM721 183h5v4h-5zM732 183h2v4h-2zM765 183h2v4h-2zM811 183h3v4h-3zM827 183h3v4h-3zM683 187h2v4h-2zM691 187h2v4h-2zM713 187h2v4h-2zM721 187h3v4h-3zM748 187h6v4h-6zM767 187h3v4h-3zM778 187h3v4h-3zM792 187h3v4h-3zM797 187h3v4h-3zM803 187h2v4h-2zM819 187h3v4h-3zM704 191h3v4h-3zM754 191h2v4h-2zM770 191h3v4h-3zM775 191h3v4h-3zM852 191h3v4h-3zM871 191h3v4h-3zM748 195h3v4h-3zM770 195h3v4h-3zM775 195h3v4h-3zM805 195h3v4h-3zM849 195h8v4h-8zM866 195h2v4h-2zM871 195h6v4h-6zM693 199h3v4h-3zM699 199h3v4h-3zM759 199h3v4h-3zM775 199h6v4h-6zM849 199h3v4h-3zM857 199h3v4h-3zM762 203h3v4h-3zM778 210h3v4h-3z"/>
<path fill="#00c896" d="M702 141h2v4h-2zM718 141h3v4h-3zM680 149h3v4h-3zM696 149h6v4h-6zM710 149h3v4h-3zM715 149h3v4h-3zM729 149h5v4h-5zM680 153h3v3h-3zM699 153h3v3h-3zM710 153h3v3h-3zM724 153h2v3h-2zM767 153h3v3h-3zM699 156h3v4h-3zM704 156h6v4h-6zM688 160h5v4h-5zM699 160h3v4h-3zM707 160h3v4h-3zM715 160h3v4h-3zM729 160h3v4h-3zM734 160h3v4h-3zM756 160h3v4h-3zM786 160h3v4h-3zM696 164h3v4h-3zM718 164h8v4h-8zM765 164h2v4h-2zM775 164h3v4h-3zM800 164h3v4h-3zM825 164h2v4h-2zM724 168h2v4h-2zM756 168h3v4h-3zM762 168h3v4h-3zM803 168h2v4h-2zM685 172h3v4h-3zM693 172h3v4h-3zM710 172h3v4h-3zM781 172h3v4h-3zM795 172h2v4h-2zM808 172h3v4h-3zM680 176h3v4h-3zM734 176h3v4h-3zM748 176h6v4h-6zM797 176h6v4h-6zM808 176h3v4h-3zM822 176h3v4h-3zM704 180h3v3h-3zM713 180h2v3h-2zM724 180h5v3h-5zM754 180h2v3h-2zM765 180h2v3h-2zM786 180h6v3h-6zM805 180h3v3h-3zM688 183h3v4h-3zM699 183h3v4h-3zM754 183h2v4h-2zM781 183h3v4h-3zM795 183h5v4h-5zM814 183h2v4h-2zM688 187h3v4h-3zM699 187h3v4h-3zM726 187h3v4h-3zM740 187h5v4h-5zM759 187h3v4h-3zM775 187h3v4h-3zM808 187h6v4h-6zM685 191h3v4h-3zM748 191h3v4h-3zM756 191h6v4h-6zM765 191h2v4h-2zM797 191h3v4h-3zM805 191h3v4h-3zM811 191h3v4h-3zM819 191h8v4h-8zM866 191h2v4h-2zM762 195h5v4h-5zM789 195h6v4h-6zM800 195h3v4h-3zM811 195h3v4h-3zM825 195h2v4h-2zM830 195h3v4h-3zM838 195h6v4h-6zM765 199h2v4h-2zM770 199h3v4h-3zM786 199h3v4h-3zM792 199h3v4h-3zM822 199h3v4h-3zM846 199h3v4h-3zM863 199h3v4h-3zM765 203h2v4h-2zM770 203h3v4h-3zM778 203h3v4h-3zM863 203h3v4h-3z"/>
<path fill="#0050e1" d="M704 141h3v4h-3zM819 210h3v4h-3zM721 214h3v4h-3zM805 214h3v4h-3zM811 214h3v4h-3zM819 214h3v4h-3zM688 218h3v4h-3zM734 218h3v4h-3zM822 218h3v4h-3zM685 222h6v4h-6zM729 222h3v4h-3zM797 222h3v4h-3zM816 222h3v4h-3zM822 222h3v4h-3zM874 222h3v4h-3zM729 226h3v4h-3zM745 226h3v4h-3zM825 226h2v4h-2zM866 226h2v4h-2zM737 230h3v4h-3zM789 230h3v4h-3zM827 230h3v4h-3zM729 234h3v3h-3zM743 234h2v3h-2zM737 237h6v4h-6zM822 237h3v4h-3zM827 237h6v4h-6zM721 241h3v4h-3zM732 241h2v4h-2zM838 241h3v4h-3zM855 241h2v4h-2zM718 245h3v4h-3zM734 245h3v4h-3zM740 245h3v4h-3zM748 245h3v4h-3zM721 249h3v4h-3zM707 253h3v4h-3zM693 261h3v3h-3z"/>
<path fill="#00048b" d="M767 149h3v4h-3zM846 153h3v3h-3zM808 183h3v4h-3zM707 230h3v4h-3zM696 234h3v3h-3zM868 241h3v4h-3zM781 245h3v4h-3zM786 245h6v4h-6zM795 245h2v4h-2zM805 245h3v4h-3zM765 249h2v4h-2zM773 249h2v4h-2zM781 249h3v4h-3zM786 249h6v4h-6zM795 249h2v4h-2zM800 249h5v4h-5zM808 249h3v4h-3zM754 253h8v4h-8zM765 253h2v4h-2zM770 253h3v4h-3zM775 253h3v4h-3zM784 253h5v4h-5zM792 253h8v4h-8zM803 253h16v4h-16zM860 253h3v4h-3zM756 257h3v4h-3zM762 257h3v4h-3zM770 257h11v4h-11zM789 257h6v4h-6zM800 257h5v4h-5zM819 257h3v4h-3zM825 257h2v4h-2zM833 257h3v4h-3zM846 257h3v4h-3zM857 257h9v4h-9zM756 261h6v3h-6zM773 261h8v3h-8zM784 261h8v3h-8zM800 261h3v3h-3zM805 261h3v3h-3zM811 261h3v3h-3zM819 261h3v3h-3zM827 261h3v3h-3zM838 261h3v3h-3zM844 261h5v3h-5zM857 261h3v3h-3zM874 261h3v3h-3zM762 264h3v1h-3zM773 264h5v1h-5zM781 264h8v1h-8zM803 264h5v1h-5zM811 264h11v1h-11zM836 264h2v1h-2zM852 264h3v1h-3zM857 264h3v1h-3zM874 264h3v1h-3z"/>
<path fill="#00bffd" d="M707 172h3v4h-3zM784 172h2v4h-2zM729 180h3v3h-3zM693 191h3v4h-3zM740 191h5v4h-5zM704 195h3v4h-3zM743 195h2v4h-2zM683 199h2v4h-2zM691 199h2v4h-2zM732 199h2v4h-2zM745 199h3v4h-3zM680 203h3v4h-3zM685 203h3v4h-3zM696 203h3v4h-3zM702 203h2v4h-2zM707 203h3v4h-3zM740 203h3v4h-3zM754 203h2v4h-2zM789 203h3v4h-3zM797 203h6v4h-6zM805 203h3v4h-3zM811 203h3v4h-3zM833 203h3v4h-3zM844 203h2v4h-2zM704 207h3v3h-3zM734 207h3v3h-3zM805 207h3v3h-3zM833 207h3v3h-3zM844 207h2v3h-2zM855 207h5v3h-5zM866 207h2v3h-2zM740 210h3v4h-3zM745 210h3v4h-3zM846 210h3v4h-3zM844 214h2v4h-2zM852 214h5v4h-5zM751 218h3v4h-3zM756 218h3v4h-3zM784 218h5v4h-5zM838 218h3v4h-3zM767 222h3v4h-3zM781 222h3v4h-3zM841 222h3v4h-3zM841 226h3v4h-3zM846 230h3v4h-3z"/>
<path fill="#00b3fe" d="M704 176h3v4h-3zM745 191h3v4h-3zM693 195h3v4h-3zM710 195h3v4h-3zM740 195h3v4h-3zM685 199h3v4h-3zM704 199h3v4h-3zM726 199h3v4h-3zM871 199h3v4h-3zM699 203h3v4h-3zM710 203h3v4h-3zM715 203h3v4h-3zM721 203h3v4h-3zM729 203h3v4h-3zM743 203h5v4h-5zM808 203h3v4h-3zM825 203h2v4h-2zM855 203h2v4h-2zM860 203h3v4h-3zM868 203h3v4h-3zM683 207h5v3h-5zM696 207h3v3h-3zM754 207h2v3h-2zM808 207h6v3h-6zM830 207h3v3h-3zM860 207h3v3h-3zM874 207h3v3h-3zM765 210h2v4h-2zM770 210h3v4h-3zM781 210h3v4h-3zM795 210h5v4h-5zM844 210h2v4h-2zM849 210h3v4h-3zM748 214h3v4h-3zM759 214h3v4h-3zM775 214h3v4h-3zM792 214h3v4h-3zM846 214h6v4h-6zM792 218h3v4h-3zM830 218h8v4h-8zM846 218h3v4h-3zM773 222h2v4h-2zM786 222h3v4h-3zM849 222h3v4h-3zM838 230h3v4h-3zM833 234h3v3h-3zM844 234h2v3h-2zM849 234h3v3h-3z"/>
<path fill="#006bed" d="M830 180h3v3h-3zM836 180h2v3h-2zM707 207h3v3h-3zM814 207h2v3h-2zM715 210h6v4h-6zM805 210h3v4h-3zM685 214h3v4h-3zM696 214h3v4h-3zM715 214h3v4h-3zM734 214h6v4h-6zM803 214h2v4h-2zM822 214h3v4h-3zM693 218h3v4h-3zM803 218h5v4h-5zM737 222h3v4h-3zM743 222h2v4h-2zM868 222h3v4h-3zM737 226h3v4h-3zM751 226h3v4h-3zM759 226h3v4h-3zM770 226h3v4h-3zM789 226h3v4h-3zM778 230h3v4h-3zM734 234h3v3h-3zM855 234h2v3h-2zM849 237h6v4h-6z"/>
<path fill="#00a6fd" d="M745 183h3v4h-3zM737 199h3v4h-3zM691 203h2v4h-2zM734 203h6v4h-6zM748 203h3v4h-3zM803 203h2v4h-2zM737 207h3v3h-3zM778 207h3v3h-3zM816 207h3v3h-3zM822 207h3v3h-3zM863 207h3v3h-3zM680 210h3v4h-3zM688 210h3v4h-3zM737 210h3v4h-3zM827 210h6v4h-6zM841 210h3v4h-3zM868 210h3v4h-3zM751 214h3v4h-3zM770 214h3v4h-3zM795 214h2v4h-2zM860 214h3v4h-3zM745 218h3v4h-3zM762 218h3v4h-3zM770 218h3v4h-3zM789 218h3v4h-3zM795 218h2v4h-2zM852 218h3v4h-3zM857 218h3v4h-3zM748 222h3v4h-3zM789 222h3v4h-3zM849 226h3v4h-3zM844 230h2v4h-2zM836 234h2v3h-2z"/>
<path fill="#0090fa" d="M683 203h2v4h-2zM691 207h2v3h-2zM699 207h5v3h-5zM710 207h3v3h-3zM726 207h3v3h-3zM743 207h2v3h-2zM819 207h3v3h-3zM825 207h2v3h-2zM683 210h5v4h-5zM691 210h2v4h-2zM702 210h2v4h-2zM789 210h3v4h-3zM838 210h3v4h-3zM860 210h3v4h-3zM688 214h3v4h-3zM836 214h2v4h-2zM868 214h6v4h-6zM683 218h2v4h-2zM767 218h3v4h-3zM759 222h6v4h-6zM795 222h2v4h-2zM773 226h5v4h-5zM781 226h3v4h-3zM836 226h2v4h-2zM852 226h3v4h-3zM852 230h3v4h-3z"/>
<path fill="#0087f7" d="M688 207h3v3h-3zM721 207h3v3h-3zM710 210h3v4h-3zM726 210h3v4h-3zM734 210h3v4h-3zM751 210h3v4h-3zM825 210h2v4h-2zM866 210h2v4h-2zM871 210h3v4h-3zM680 214h3v4h-3zM724 214h2v4h-2zM740 214h3v4h-3zM830 214h3v4h-3zM863 214h3v4h-3zM855 218h2v4h-2zM863 218h3v4h-3zM751 222h3v4h-3zM778 222h3v4h-3zM792 222h3v4h-3zM803 222h2v4h-2zM830 222h6v4h-6zM830 226h6v4h-6zM846 226h3v4h-3zM855 226h2v4h-2zM855 230h2v4h-2zM825 234h2v3h-2zM852 234h3v3h-3zM838 237h3v4h-3z"/>
<path fill="#0062e9" d="M713 207h2v3h-2zM822 210h3v4h-3zM718 214h3v4h-3zM808 214h3v4h-3zM866 214h2v4h-2zM825 218h5v4h-5zM871 218h6v4h-6zM800 222h3v4h-3zM825 222h2v4h-2zM756 226h3v4h-3zM762 226h3v4h-3zM797 226h3v4h-3zM868 226h3v4h-3zM822 230h5v4h-5zM822 234h3v3h-3zM857 234h3v3h-3zM825 237h2v4h-2zM833 237h3v4h-3zM844 237h5v4h-5zM836 241h2v4h-2zM841 241h3v4h-3z"/>
<path fill="#007df4" d="M715 207h3v3h-3zM696 210h3v4h-3zM707 210h3v4h-3zM713 210h2v4h-2zM721 210h3v4h-3zM732 210h2v4h-2zM743 210h2v4h-2zM800 210h5v4h-5zM816 210h3v4h-3zM874 210h3v4h-3zM693 214h3v4h-3zM707 214h3v4h-3zM729 214h3v4h-3zM680 218h3v4h-3zM685 218h3v4h-3zM691 218h2v4h-2zM724 218h2v4h-2zM743 218h2v4h-2zM860 218h3v4h-3zM868 218h3v4h-3zM680 222h3v4h-3zM732 222h2v4h-2zM827 222h3v4h-3zM846 222h3v4h-3zM866 222h2v4h-2zM767 226h3v4h-3zM792 226h3v4h-3zM860 226h3v4h-3zM846 234h3v3h-3z"/>
<path fill="#0074f0" d="M718 207h3v3h-3zM724 207h2v3h-2zM699 210h3v4h-3zM704 210h3v4h-3zM724 210h2v4h-2zM808 210h6v4h-6zM691 214h2v4h-2zM702 214h2v4h-2zM726 214h3v4h-3zM732 214h2v4h-2zM827 214h3v4h-3zM833 214h3v4h-3zM874 214h3v4h-3zM737 218h3v4h-3zM800 218h3v4h-3zM857 222h3v4h-3zM863 222h3v4h-3zM754 226h2v4h-2zM778 226h3v4h-3zM784 226h2v4h-2zM827 226h3v4h-3zM857 226h3v4h-3zM863 226h3v4h-3zM830 230h3v4h-3zM857 230h3v4h-3zM830 234h3v3h-3zM855 237h2v4h-2zM740 241h3v4h-3z"/>
<path fill="#000794" d="M756 214h3v4h-3zM759 218h3v4h-3zM767 230h3v4h-3zM800 234h3v3h-3zM805 234h3v3h-3zM759 237h3v4h-3zM765 237h2v4h-2zM691 241h2v4h-2zM759 241h3v4h-3zM773 241h2v4h-2zM778 241h8v4h-8zM789 241h8v4h-8zM803 241h2v4h-2zM808 241h6v4h-6zM756 245h14v4h-14zM773 245h8v4h-8zM784 245h2v4h-2zM792 245h3v4h-3zM797 245h3v4h-3zM811 245h3v4h-3zM756 249h3v4h-3zM762 249h3v4h-3zM767 249h6v4h-6zM775 249h6v4h-6zM784 249h2v4h-2zM792 249h3v4h-3zM797 249h3v4h-3zM805 249h3v4h-3zM811 249h11v4h-11zM857 249h3v4h-3zM874 249h3v4h-3zM751 253h3v4h-3zM762 253h3v4h-3zM767 253h3v4h-3zM773 253h2v4h-2zM819 253h11v4h-11zM846 253h3v4h-3zM852 253h5v4h-5zM866 253h2v4h-2zM871 253h6v4h-6zM710 257h3v4h-3zM754 257h2v4h-2zM759 257h3v4h-3zM765 257h5v4h-5zM781 257h3v4h-3zM786 257h3v4h-3zM795 257h2v4h-2zM805 257h3v4h-3zM816 257h3v4h-3zM822 257h3v4h-3zM827 257h6v4h-6zM838 257h3v4h-3zM849 257h6v4h-6zM866 257h2v4h-2zM871 257h6v4h-6zM770 261h3v3h-3zM781 261h3v3h-3zM795 261h2v3h-2zM808 261h3v3h-3zM816 261h3v3h-3zM833 261h3v3h-3zM841 261h3v3h-3zM849 261h3v3h-3zM860 261h11v3h-11zM704 264h3v1h-3zM754 264h5v1h-5zM792 264h5v1h-5zM800 264h3v1h-3zM822 264h3v1h-3zM830 264h6v1h-6zM841 264h11v1h-11zM860 264h6v1h-6z"/>
<path fill="#0045da" d="M696 218h3v4h-3zM702 218h2v4h-2zM707 218h3v4h-3zM715 218h3v4h-3zM726 218h3v4h-3zM732 218h2v4h-2zM814 218h8v4h-8zM683 222h2v4h-2zM707 222h3v4h-3zM726 222h3v4h-3zM805 222h3v4h-3zM726 226h3v4h-3zM734 226h3v4h-3zM740 226h3v4h-3zM803 226h2v4h-2zM819 226h3v4h-3zM745 230h3v4h-3zM754 230h2v4h-2zM762 230h5v4h-5zM773 230h2v4h-2zM713 234h2v3h-2zM724 234h2v3h-2zM732 234h2v3h-2zM740 234h3v3h-3zM819 234h3v3h-3zM721 237h5v4h-5zM860 237h3v4h-3zM734 241h3v4h-3zM827 241h3v4h-3zM699 245h3v4h-3zM729 245h3v4h-3zM737 245h3v4h-3zM836 245h2v4h-2zM707 249h3v4h-3zM715 249h3v4h-3zM740 249h3v4h-3zM748 249h3v4h-3zM715 253h3v4h-3zM702 257h2v4h-2zM740 257h3v4h-3z"/>
<path fill="#000fa7" d="M704 222h3v4h-3zM707 226h3v4h-3zM718 226h3v4h-3zM693 230h3v4h-3zM699 230h3v4h-3zM808 230h3v4h-3zM680 234h3v3h-3zM693 234h3v3h-3zM699 234h5v3h-5zM707 234h3v3h-3zM792 234h8v3h-8zM803 234h2v3h-2zM808 234h3v3h-3zM814 234h2v3h-2zM704 237h3v4h-3zM756 237h3v4h-3zM762 237h3v4h-3zM770 237h3v4h-3zM778 237h3v4h-3zM786 237h3v4h-3zM767 241h3v4h-3zM819 241h3v4h-3zM871 241h6v4h-6zM863 245h5v4h-5zM751 249h3v4h-3zM759 249h3v4h-3zM827 249h3v4h-3zM846 249h9v4h-9zM860 249h3v4h-3zM740 253h3v4h-3zM833 253h3v4h-3zM841 253h5v4h-5zM849 253h3v4h-3zM857 253h3v4h-3zM683 257h2v4h-2zM688 257h3v4h-3zM704 257h3v4h-3zM814 257h2v4h-2zM680 261h3v3h-3zM718 261h3v3h-3zM748 261h3v3h-3zM710 264h3v1h-3zM734 264h3v1h-3zM748 264h3v1h-3z"/>
<path fill="#000182" d="M770 245h3v4h-3zM778 253h3v4h-3zM789 253h3v4h-3zM800 253h3v4h-3zM784 257h2v4h-2zM797 257h3v4h-3zM811 257h3v4h-3zM754 261h2v3h-2zM762 261h8v3h-8zM797 261h3v3h-3zM803 261h2v3h-2zM814 261h2v3h-2zM822 261h3v3h-3zM855 261h2v3h-2zM871 261h3v3h-3zM759 264h3v1h-3zM765 264h8v1h-8zM778 264h3v1h-3zM789 264h3v1h-3zM797 264h3v1h-3zM808 264h3v1h-3zM825 264h2v1h-2zM871 264h3v1h-3z"/>
<path fill="#09e000" d="M680 326h13v1h-13zM718 326h16v1h-16zM860 326h17v1h-17zM680 327h13v4h-13zM718 327h16v4h-16zM860 327h17v4h-17zM680 331h11v4h-11zM718 331h6v4h-6zM726 331h8v4h-8zM863 331h14v4h-14zM685 335h3v4h-3zM718 335h3v4h-3zM729 335h8v4h-8zM863 335h14v4h-14zM685 339h3v3h-3zM718 339h3v3h-3zM732 339h5v3h-5zM863 339h14v3h-14zM685 342h3v4h-3zM724 342h8v4h-8zM863 342h14v4h-14zM688 346h3v4h-3zM863 346h14v4h-14zM688 350h3v4h-3zM762 350h3v4h-3zM863 350h14v4h-14zM688 354h3v4h-3zM762 354h8v4h-8zM781 354h5v4h-5zM863 354h14v4h-14zM685 358h6v4h-6zM759 358h38v4h-38zM863 358h14v4h-14zM680 362h13v4h-13zM762 362h8v4h-8zM778 362h6v4h-6zM789 362h8v4h-8zM680 366h16v3h-16zM762 366h5v3h-5zM778 366h3v3h-3zM792 366h8v3h-8zM688 369h8v4h-8zM778 369h3v4h-3zM792 369h5v4h-5zM816 369h11v4h-11zM781 373h3v4h-3zM786 373h9v4h-9zM819 373h17v4h-17zM781 377h11v4h-11zM822 377h3v4h-3zM841 377h5v4h-5zM784 381h2v4h-2zM827 381h3v4h-3zM841 381h8v4h-8zM830 385h3v4h-3zM841 385h8v4h-8zM833 389h13v4h-13zM841 393h3v3h-3zM713 396h5v4h-5zM751 396h11v4h-11zM713 400h13v4h-13zM751 400h16v4h-16zM718 404h16v4h-16zM751 404h3v4h-3zM756 404h19v4h-19zM721 408h16v4h-16zM748 408h6v4h-6zM759 408h19v4h-19zM721 412h16v4h-16zM748 412h36v4h-36zM721 416h19v3h-19zM751 416h30v3h-30zM786 416h9v3h-9zM721 419h19v4h-19zM751 419h24v4h-24zM795 419h5v4h-5zM726 423h47v4h-47zM797 423h6v4h-6zM729 427h41v4h-41zM800 427h5v4h-5zM732 431h43v4h-43zM800 431h3v4h-3zM748 435h30v4h-30zM792 435h8v4h-8zM751 439h22v4h-22zM775 439h17v4h-17zM680 443h11v3h-11zM693 443h20v3h-20zM751 443h19v3h-19zM781 443h5v3h-5zM680 446h22v4h-22zM704 446h11v4h-11zM751 446h19v4h-19zM680 450h13v4h-13zM710 450h8v4h-8zM751 450h16v4h-16zM680 454h11v4h-11zM710 454h8v4h-8zM751 454h16v4h-16zM830 454h11v4h-11zM685 458h8v4h-8zM707 458h8v4h-8zM751 458h16v4h-16zM827 458h6v4h-6zM841 458h5v4h-5zM688 462h22v4h-22zM754 462h11v4h-11zM797 462h8v4h-8zM825 462h5v4h-5zM846 462h3v4h-3zM691 466h13v4h-13zM792 466h16v4h-16zM822 466h5v4h-5zM849 466h3v4h-3zM874 466h3v4h-3zM792 470h19v3h-19zM819 470h6v3h-6zM849 470h3v3h-3zM871 470h6v3h-6zM789 473h36v4h-36zM852 473h25v4h-25zM792 477h33v4h-33zM849 477h28v4h-28zM792 481h33v4h-33zM849 481h28v4h-28zM792 485h35v4h-35zM846 485h31v4h-31zM704 489h28v4h-28zM800 489h30v4h-30zM844 489h33v4h-33zM702 493h5v4h-5zM732 493h5v4h-5zM803 493h74v4h-74zM699 497h3v3h-3zM737 497h6v3h-6zM819 497h14v3h-14zM874 497h3v3h-3zM745 500h3v4h-3zM822 500h5v4h-5zM874 500h3v4h-3zM696 504h3v4h-3zM748 504h3v4h-3zM822 504h3v4h-3zM874 504h3v4h-3zM748 508h3v4h-3zM874 508h3v4h-3zM693 512h3v4h-3zM874 512h3v4h-3zM874 516h3v4h-3zM696 520h3v4h-3zM748 520h3v4h-3zM874 520h3v4h-3zM696 524h3v3h-3zM748 524h3v3h-3zM874 524h3v3h-3zM745 527h3v4h-3zM874 527h3v4h-3zM702 531h2v4h-2zM737 531h6v4h-6zM767 531h3v4h-3zM778 531h3v4h-3zM874 531h3v4h-3zM707 535h14v4h-14zM765 535h2v4h-2zM786 535h6v4h-6zM822 535h3v4h-3zM874 535h3v4h-3zM762 539h3v4h-3zM797 539h6v4h-6zM822 539h3v4h-3zM874 539h3v4h-3zM759 543h3v4h-3zM803 543h24v4h-24zM874 543h3v4h-3zM759 547h3v4h-3zM803 547h24v4h-24zM874 547h3v4h-3zM759 551h3v3h-3zM803 551h24v3h-24zM874 551h3v3h-3zM759 554h3v1h-3zM803 554h24v1h-24zM874 554h3v1h-3z"/>
<path fill="#30ea00" d="M693 326h6v1h-6zM710 326h8v1h-8zM734 326h6v1h-6zM805 326h17v1h-17zM855 326h5v1h-5zM693 327h6v4h-6zM710 327h8v4h-8zM734 327h6v4h-6zM805 327h17v4h-17zM855 327h5v4h-5zM691 331h5v4h-5zM713 331h5v4h-5zM734 331h6v4h-6zM808 331h14v4h-14zM857 331h6v4h-6zM688 335h5v4h-5zM715 335h3v4h-3zM737 335h6v4h-6zM808 335h11v4h-11zM860 335h3v4h-3zM688 339h3v3h-3zM715 339h3v3h-3zM737 339h6v3h-6zM808 339h11v3h-11zM860 339h3v3h-3zM688 342h5v4h-5zM721 342h3v4h-3zM732 342h8v4h-8zM811 342h8v4h-8zM860 342h3v4h-3zM691 346h2v4h-2zM732 346h5v4h-5zM762 346h5v4h-5zM811 346h8v4h-8zM860 346h3v4h-3zM691 350h2v4h-2zM759 350h3v4h-3zM765 350h24v4h-24zM811 350h5v4h-5zM860 350h3v4h-3zM691 354h5v4h-5zM756 354h6v4h-6zM770 354h11v4h-11zM786 354h11v4h-11zM860 354h3v4h-3zM691 358h5v4h-5zM756 358h3v4h-3zM797 358h6v4h-6zM860 358h3v4h-3zM693 362h6v4h-6zM756 362h6v4h-6zM770 362h8v4h-8zM797 362h22v4h-22zM860 362h17v4h-17zM696 366h3v3h-3zM756 366h6v3h-6zM767 366h11v3h-11zM800 366h27v3h-27zM860 366h8v3h-8zM680 369h8v4h-8zM696 369h6v4h-6zM756 369h14v4h-14zM775 369h3v4h-3zM797 369h19v4h-19zM827 369h3v4h-3zM685 373h17v4h-17zM759 373h8v4h-8zM778 373h3v4h-3zM795 373h5v4h-5zM816 373h3v4h-3zM836 373h8v4h-8zM693 377h11v4h-11zM778 377h3v4h-3zM792 377h5v4h-5zM819 377h3v4h-3zM846 377h6v4h-6zM699 381h8v4h-8zM781 381h3v4h-3zM786 381h6v4h-6zM822 381h5v4h-5zM849 381h3v4h-3zM702 385h5v4h-5zM781 385h8v4h-8zM827 385h3v4h-3zM849 385h3v4h-3zM702 389h11v4h-11zM781 389h5v4h-5zM830 389h3v4h-3zM846 389h6v4h-6zM707 393h17v3h-17zM751 393h19v3h-19zM781 393h3v3h-3zM833 393h8v3h-8zM844 393h5v3h-5zM707 396h6v4h-6zM718 396h14v4h-14zM748 396h3v4h-3zM762 396h19v4h-19zM838 396h11v4h-11zM710 400h3v4h-3zM726 400h11v4h-11zM748 400h3v4h-3zM767 400h14v4h-14zM841 400h5v4h-5zM710 404h8v4h-8zM734 404h6v4h-6zM745 404h6v4h-6zM775 404h9v4h-9zM841 404h8v4h-8zM715 408h6v4h-6zM737 408h6v4h-6zM745 408h3v4h-3zM778 408h6v4h-6zM838 408h14v4h-14zM718 412h3v4h-3zM737 412h11v4h-11zM784 412h13v4h-13zM838 412h14v4h-14zM718 416h3v3h-3zM740 416h11v3h-11zM795 416h8v3h-8zM838 416h11v3h-11zM718 419h3v4h-3zM740 419h11v4h-11zM800 419h11v4h-11zM838 419h11v4h-11zM721 423h5v4h-5zM803 423h8v4h-8zM841 423h5v4h-5zM680 427h5v4h-5zM724 427h5v4h-5zM805 427h6v4h-6zM680 431h8v4h-8zM726 431h6v4h-6zM803 431h8v4h-8zM680 435h8v4h-8zM729 435h19v4h-19zM800 435h5v4h-5zM680 439h38v4h-38zM732 439h19v4h-19zM773 439h2v4h-2zM792 439h8v4h-8zM691 443h2v3h-2zM713 443h5v3h-5zM745 443h6v3h-6zM770 443h11v3h-11zM786 443h3v3h-3zM715 446h6v4h-6zM745 446h6v4h-6zM770 446h16v4h-16zM718 450h3v4h-3zM748 450h3v4h-3zM767 450h6v4h-6zM830 450h8v4h-8zM718 454h6v4h-6zM748 454h3v4h-3zM767 454h6v4h-6zM825 454h5v4h-5zM841 454h5v4h-5zM680 458h5v4h-5zM715 458h6v4h-6zM748 458h3v4h-3zM767 458h3v4h-3zM800 458h5v4h-5zM822 458h5v4h-5zM846 458h3v4h-3zM871 458h6v4h-6zM680 462h8v4h-8zM710 462h8v4h-8zM748 462h6v4h-6zM765 462h5v4h-5zM786 462h11v4h-11zM805 462h6v4h-6zM816 462h9v4h-9zM849 462h3v4h-3zM866 462h11v4h-11zM680 466h11v4h-11zM704 466h11v4h-11zM751 466h16v4h-16zM786 466h6v4h-6zM808 466h14v4h-14zM860 466h14v4h-14zM680 470h30v3h-30zM759 470h6v3h-6zM786 470h6v3h-6zM811 470h8v3h-8zM852 470h19v3h-19zM688 473h14v4h-14zM786 473h3v4h-3zM691 477h8v4h-8zM786 477h6v4h-6zM718 481h8v4h-8zM789 481h3v4h-3zM699 485h33v4h-33zM789 485h3v4h-3zM699 489h5v4h-5zM732 489h8v4h-8zM792 489h8v4h-8zM696 493h6v4h-6zM737 493h6v4h-6zM795 493h8v4h-8zM696 497h3v3h-3zM743 497h5v3h-5zM814 497h5v3h-5zM833 497h11v3h-11zM860 497h14v3h-14zM696 500h3v4h-3zM748 500h3v4h-3zM819 500h3v4h-3zM827 500h6v4h-6zM866 500h8v4h-8zM693 504h3v4h-3zM751 504h3v4h-3zM825 504h5v4h-5zM868 504h6v4h-6zM693 508h3v4h-3zM751 508h3v4h-3zM822 508h5v4h-5zM871 508h3v4h-3zM751 512h3v4h-3zM871 512h3v4h-3zM693 516h3v4h-3zM751 516h3v4h-3zM871 516h3v4h-3zM693 520h3v4h-3zM751 520h3v4h-3zM871 520h3v4h-3zM751 524h3v3h-3zM871 524h3v3h-3zM696 527h3v4h-3zM748 527h3v4h-3zM773 527h2v4h-2zM871 527h3v4h-3zM699 531h3v4h-3zM743 531h2v4h-2zM781 531h3v4h-3zM822 531h3v4h-3zM871 531h3v4h-3zM702 535h5v4h-5zM721 535h16v4h-16zM762 535h3v4h-3zM792 535h13v4h-13zM819 535h3v4h-3zM825 535h2v4h-2zM868 535h6v4h-6zM759 539h3v4h-3zM803 539h8v4h-8zM816 539h6v4h-6zM825 539h5v4h-5zM868 539h6v4h-6zM827 543h6v4h-6zM866 543h8v4h-8zM827 547h6v4h-6zM866 547h8v4h-8zM827 551h6v3h-6zM866 551h8v3h-8zM827 554h6v1h-6zM866 554h8v1h-8z"/>
<path fill="#5ef100" d="M699 326h11v1h-11zM740 326h14v1h-14zM800 326h5v1h-5zM822 326h8v1h-8zM849 326h6v1h-6zM699 327h11v4h-11zM740 327h14v4h-14zM800 327h5v4h-5zM822 327h8v4h-8zM849 327h6v4h-6zM696 331h17v4h-17zM740 331h14v4h-14zM800 331h8v4h-8zM822 331h5v4h-5zM855 331h2v4h-2zM693 335h9v4h-9zM707 335h8v4h-8zM743 335h11v4h-11zM800 335h8v4h-8zM819 335h6v4h-6zM857 335h3v4h-3zM691 339h5v3h-5zM707 339h8v3h-8zM743 339h13v3h-13zM803 339h5v3h-5zM819 339h6v3h-6zM693 342h6v4h-6zM715 342h6v4h-6zM740 342h11v4h-11zM759 342h6v4h-6zM805 342h6v4h-6zM819 342h6v4h-6zM693 346h6v4h-6zM721 346h11v4h-11zM737 346h11v4h-11zM756 346h6v4h-6zM767 346h22v4h-22zM808 346h3v4h-3zM819 346h6v4h-6zM693 350h6v4h-6zM732 350h16v4h-16zM754 350h5v4h-5zM789 350h6v4h-6zM808 350h3v4h-3zM816 350h9v4h-9zM857 350h3v4h-3zM696 354h3v4h-3zM740 354h16v4h-16zM797 354h25v4h-25zM857 354h3v4h-3zM696 358h6v4h-6zM743 358h13v4h-13zM803 358h16v4h-16zM857 358h3v4h-3zM699 362h3v4h-3zM743 362h13v4h-13zM819 362h8v4h-8zM855 362h5v4h-5zM699 366h5v3h-5zM743 366h13v3h-13zM827 366h3v3h-3zM852 366h8v3h-8zM868 366h9v3h-9zM702 369h2v4h-2zM743 369h13v4h-13zM770 369h5v4h-5zM830 369h6v4h-6zM849 369h25v4h-25zM680 373h5v4h-5zM702 373h5v4h-5zM743 373h16v4h-16zM767 373h6v4h-6zM775 373h3v4h-3zM800 373h16v4h-16zM844 373h22v4h-22zM685 377h8v4h-8zM704 377h3v4h-3zM743 377h27v4h-27zM775 377h3v4h-3zM797 377h3v4h-3zM814 377h5v4h-5zM852 377h8v4h-8zM693 381h6v4h-6zM707 381h3v4h-3zM740 381h30v4h-30zM775 381h6v4h-6zM792 381h5v4h-5zM852 381h8v4h-8zM696 385h6v4h-6zM707 385h6v4h-6zM737 385h36v4h-36zM775 385h6v4h-6zM789 385h3v4h-3zM825 385h2v4h-2zM852 385h8v4h-8zM699 389h3v4h-3zM713 389h68v4h-68zM786 389h3v4h-3zM852 389h5v4h-5zM699 393h8v3h-8zM724 393h27v3h-27zM770 393h11v3h-11zM784 393h5v3h-5zM830 393h3v3h-3zM849 393h8v3h-8zM699 396h8v4h-8zM732 396h16v4h-16zM781 396h8v4h-8zM833 396h5v4h-5zM849 396h3v4h-3zM704 400h6v4h-6zM737 400h11v4h-11zM781 400h8v4h-8zM836 400h5v4h-5zM846 400h6v4h-6zM680 404h5v4h-5zM707 404h3v4h-3zM740 404h5v4h-5zM784 404h8v4h-8zM836 404h5v4h-5zM849 404h8v4h-8zM680 408h8v4h-8zM710 408h5v4h-5zM743 408h2v4h-2zM784 408h13v4h-13zM833 408h5v4h-5zM852 408h5v4h-5zM680 412h5v4h-5zM713 412h5v4h-5zM797 412h11v4h-11zM830 412h8v4h-8zM852 412h5v4h-5zM680 416h5v3h-5zM715 416h3v3h-3zM803 416h35v3h-35zM849 416h6v3h-6zM680 419h5v4h-5zM715 419h3v4h-3zM811 419h27v4h-27zM849 419h6v4h-6zM680 423h8v4h-8zM718 423h3v4h-3zM811 423h16v4h-16zM836 423h5v4h-5zM846 423h6v4h-6zM685 427h3v4h-3zM718 427h6v4h-6zM811 427h14v4h-14zM838 427h11v4h-11zM688 431h3v4h-3zM718 431h8v4h-8zM811 431h11v4h-11zM844 431h2v4h-2zM688 435h41v4h-41zM805 435h11v4h-11zM718 439h14v4h-14zM800 439h11v4h-11zM718 443h27v3h-27zM789 443h19v3h-19zM871 443h6v3h-6zM721 446h24v4h-24zM786 446h9v4h-9zM868 446h9v4h-9zM721 450h8v4h-8zM740 450h8v4h-8zM773 450h19v4h-19zM822 450h8v4h-8zM838 450h8v4h-8zM868 450h9v4h-9zM724 454h5v4h-5zM743 454h5v4h-5zM773 454h16v4h-16zM819 454h6v4h-6zM846 454h3v4h-3zM866 454h11v4h-11zM721 458h5v4h-5zM743 458h5v4h-5zM770 458h30v4h-30zM805 458h9v4h-9zM816 458h6v4h-6zM849 458h3v4h-3zM863 458h8v4h-8zM718 462h6v4h-6zM743 462h5v4h-5zM770 462h16v4h-16zM811 462h5v4h-5zM852 462h14v4h-14zM715 466h11v4h-11zM745 466h6v4h-6zM767 466h6v4h-6zM775 466h11v4h-11zM852 466h8v4h-8zM710 470h16v3h-16zM745 470h14v3h-14zM765 470h5v3h-5zM778 470h8v3h-8zM680 473h8v4h-8zM702 473h24v4h-24zM751 473h16v4h-16zM781 473h5v4h-5zM680 477h11v4h-11zM699 477h30v4h-30zM762 477h5v4h-5zM781 477h5v4h-5zM685 481h33v4h-33zM726 481h6v4h-6zM784 481h5v4h-5zM691 485h8v4h-8zM732 485h8v4h-8zM786 485h3v4h-3zM691 489h8v4h-8zM740 489h5v4h-5zM786 489h6v4h-6zM693 493h3v4h-3zM743 493h8v4h-8zM773 493h2v4h-2zM789 493h6v4h-6zM693 497h3v3h-3zM748 497h6v3h-6zM797 497h17v3h-17zM844 497h16v3h-16zM693 500h3v4h-3zM751 500h8v4h-8zM814 500h5v4h-5zM833 500h5v4h-5zM860 500h6v4h-6zM754 504h5v4h-5zM819 504h3v4h-3zM830 504h3v4h-3zM863 504h5v4h-5zM754 508h5v4h-5zM827 508h3v4h-3zM868 508h3v4h-3zM691 512h2v4h-2zM754 512h2v4h-2zM822 512h5v4h-5zM868 512h3v4h-3zM754 516h2v4h-2zM822 516h3v4h-3zM754 520h2v4h-2zM693 524h3v3h-3zM754 524h2v3h-2zM693 527h3v4h-3zM751 527h3v4h-3zM770 527h3v4h-3zM775 527h3v4h-3zM822 527h5v4h-5zM868 527h3v4h-3zM696 531h3v4h-3zM745 531h3v4h-3zM765 531h2v4h-2zM784 531h5v4h-5zM819 531h3v4h-3zM825 531h2v4h-2zM868 531h3v4h-3zM699 535h3v4h-3zM737 535h6v4h-6zM759 535h3v4h-3zM805 535h6v4h-6zM816 535h3v4h-3zM827 535h3v4h-3zM866 535h2v4h-2zM707 539h14v4h-14zM811 539h5v4h-5zM830 539h3v4h-3zM863 539h5v4h-5zM756 543h3v4h-3zM833 543h5v4h-5zM863 543h3v4h-3zM756 547h3v4h-3zM833 547h5v4h-5zM863 547h3v4h-3zM756 551h3v3h-3zM833 551h5v3h-5zM863 551h3v3h-3zM756 554h3v1h-3zM833 554h5v1h-5zM863 554h3v1h-3z"/>
<path fill="#87f600" d="M754 326h5v1h-5zM795 326h5v1h-5zM830 326h11v1h-11zM844 326h5v1h-5zM754 327h5v4h-5zM795 327h5v4h-5zM830 327h11v4h-11zM844 327h5v4h-5zM754 331h5v4h-5zM795 331h5v4h-5zM827 331h6v4h-6zM852 331h3v4h-3zM702 335h5v4h-5zM754 335h8v4h-8zM792 335h8v4h-8zM825 335h2v4h-2zM855 335h2v4h-2zM696 339h11v3h-11zM756 339h9v3h-9zM792 339h11v3h-11zM825 339h2v3h-2zM857 339h3v3h-3zM699 342h16v4h-16zM751 342h8v4h-8zM765 342h8v4h-8zM778 342h27v4h-27zM825 342h2v4h-2zM857 342h3v4h-3zM699 346h5v4h-5zM718 346h3v4h-3zM748 346h8v4h-8zM789 346h19v4h-19zM825 346h2v4h-2zM857 346h3v4h-3zM699 350h5v4h-5zM726 350h6v4h-6zM748 350h6v4h-6zM795 350h13v4h-13zM825 350h2v4h-2zM699 354h5v4h-5zM732 354h8v4h-8zM822 354h5v4h-5zM855 354h2v4h-2zM702 358h5v4h-5zM734 358h9v4h-9zM819 358h8v4h-8zM855 358h2v4h-2zM702 362h5v4h-5zM737 362h6v4h-6zM827 362h3v4h-3zM852 362h3v4h-3zM704 366h3v3h-3zM740 366h3v3h-3zM830 366h3v3h-3zM849 366h3v3h-3zM704 369h3v4h-3zM740 369h3v4h-3zM836 369h13v4h-13zM874 369h3v4h-3zM707 373h3v4h-3zM737 373h6v4h-6zM773 373h2v4h-2zM866 373h8v4h-8zM680 377h5v4h-5zM707 377h3v4h-3zM732 377h11v4h-11zM770 377h5v4h-5zM800 377h14v4h-14zM860 377h8v4h-8zM688 381h5v4h-5zM710 381h3v4h-3zM729 381h11v4h-11zM770 381h5v4h-5zM797 381h3v4h-3zM819 381h3v4h-3zM860 381h6v4h-6zM691 385h5v4h-5zM713 385h24v4h-24zM773 385h2v4h-2zM792 385h5v4h-5zM860 385h3v4h-3zM693 389h6v4h-6zM789 389h6v4h-6zM827 389h3v4h-3zM857 389h6v4h-6zM693 393h6v3h-6zM789 393h3v3h-3zM827 393h3v3h-3zM857 393h9v3h-9zM691 396h8v4h-8zM789 396h3v4h-3zM830 396h3v4h-3zM852 396h16v4h-16zM680 400h24v4h-24zM789 400h6v4h-6zM830 400h6v4h-6zM852 400h16v4h-16zM685 404h22v4h-22zM792 404h8v4h-8zM827 404h9v4h-9zM857 404h9v4h-9zM688 408h5v4h-5zM704 408h6v4h-6zM797 408h14v4h-14zM816 408h17v4h-17zM857 408h6v4h-6zM685 412h6v4h-6zM707 412h6v4h-6zM808 412h22v4h-22zM857 412h3v4h-3zM685 416h3v3h-3zM710 416h5v3h-5zM855 416h5v3h-5zM685 419h3v4h-3zM713 419h2v4h-2zM855 419h2v4h-2zM688 423h3v4h-3zM713 423h5v4h-5zM827 423h9v4h-9zM852 423h5v4h-5zM688 427h5v4h-5zM715 427h3v4h-3zM825 427h13v4h-13zM849 427h6v4h-6zM691 431h8v4h-8zM707 431h11v4h-11zM822 431h11v4h-11zM836 431h8v4h-8zM846 431h6v4h-6zM816 435h17v4h-17zM836 435h10v4h-10zM811 439h19v4h-19zM868 439h9v4h-9zM808 443h14v3h-14zM866 443h5v3h-5zM795 446h46v4h-46zM863 446h5v4h-5zM729 450h11v4h-11zM792 450h30v4h-30zM846 450h6v4h-6zM860 450h8v4h-8zM729 454h3v4h-3zM737 454h6v4h-6zM789 454h30v4h-30zM849 454h17v4h-17zM726 458h6v4h-6zM737 458h6v4h-6zM814 458h2v4h-2zM852 458h11v4h-11zM724 462h5v4h-5zM740 462h3v4h-3zM726 466h3v4h-3zM740 466h5v4h-5zM773 466h2v4h-2zM726 470h3v3h-3zM740 470h5v3h-5zM770 470h8v3h-8zM726 473h3v4h-3zM740 473h11v4h-11zM767 473h6v4h-6zM775 473h6v4h-6zM729 477h3v4h-3zM737 477h25v4h-25zM767 477h14v4h-14zM680 481h5v4h-5zM732 481h16v4h-16zM759 481h25v4h-25zM680 485h11v4h-11zM740 485h8v4h-8zM762 485h24v4h-24zM688 489h3v4h-3zM745 489h6v4h-6zM756 489h30v4h-30zM688 493h5v4h-5zM751 493h22v4h-22zM775 493h14v4h-14zM691 497h2v3h-2zM754 497h30v3h-30zM786 497h11v3h-11zM691 500h2v4h-2zM759 500h19v4h-19zM797 500h17v4h-17zM838 500h14v4h-14zM855 500h5v4h-5zM691 504h2v4h-2zM759 504h16v4h-16zM816 504h3v4h-3zM833 504h5v4h-5zM860 504h3v4h-3zM691 508h2v4h-2zM759 508h3v4h-3zM819 508h3v4h-3zM830 508h3v4h-3zM863 508h5v4h-5zM756 512h3v4h-3zM827 512h3v4h-3zM866 512h2v4h-2zM691 516h2v4h-2zM756 516h3v4h-3zM825 516h2v4h-2zM868 516h3v4h-3zM691 520h2v4h-2zM756 520h3v4h-3zM822 520h5v4h-5zM868 520h3v4h-3zM691 524h2v3h-2zM756 524h3v3h-3zM822 524h5v3h-5zM868 524h3v3h-3zM754 527h5v4h-5zM767 527h3v4h-3zM778 527h3v4h-3zM827 527h3v4h-3zM693 531h3v4h-3zM748 531h3v4h-3zM759 531h6v4h-6zM789 531h16v4h-16zM827 531h3v4h-3zM863 531h5v4h-5zM696 535h3v4h-3zM743 535h5v4h-5zM756 535h3v4h-3zM811 535h5v4h-5zM830 535h3v4h-3zM863 535h3v4h-3zM702 539h5v4h-5zM721 539h11v4h-11zM756 539h3v4h-3zM833 539h3v4h-3zM860 539h3v4h-3zM754 543h2v4h-2zM838 543h6v4h-6zM857 543h6v4h-6zM754 547h2v4h-2zM838 547h6v4h-6zM857 547h6v4h-6zM754 551h2v3h-2zM838 551h6v3h-6zM857 551h6v3h-6zM754 554h2v1h-2zM838 554h6v1h-6zM857 554h6v1h-6z"/>
<path fill="#acfa00" d="M759 326h3v1h-3zM786 326h9v1h-9zM841 326h3v1h-3zM759 327h3v4h-3zM786 327h9v4h-9zM841 327h3v4h-3zM759 331h6v4h-6zM786 331h9v4h-9zM833 331h5v4h-5zM846 331h6v4h-6zM762 335h5v4h-5zM786 335h6v4h-6zM827 335h6v4h-6zM852 335h3v4h-3zM765 339h8v3h-8zM786 339h6v3h-6zM827 339h3v3h-3zM855 339h2v3h-2zM773 342h5v4h-5zM827 342h3v4h-3zM855 342h2v4h-2zM704 346h14v4h-14zM855 346h2v4h-2zM704 350h6v4h-6zM718 350h8v4h-8zM827 350h3v4h-3zM855 350h2v4h-2zM704 354h6v4h-6zM726 354h6v4h-6zM827 354h3v4h-3zM852 354h3v4h-3zM707 358h3v4h-3zM732 358h2v4h-2zM827 358h6v4h-6zM852 358h3v4h-3zM707 362h3v4h-3zM732 362h5v4h-5zM830 362h8v4h-8zM846 362h6v4h-6zM707 366h3v3h-3zM734 366h6v3h-6zM833 366h16v3h-16zM707 369h3v4h-3zM734 369h6v4h-6zM732 373h5v4h-5zM874 373h3v4h-3zM710 377h3v4h-3zM726 377h6v4h-6zM868 377h6v4h-6zM680 381h8v4h-8zM713 381h16v4h-16zM800 381h8v4h-8zM814 381h5v4h-5zM866 381h5v4h-5zM688 385h3v4h-3zM797 385h3v4h-3zM822 385h3v4h-3zM863 385h8v4h-8zM691 389h2v4h-2zM795 389h2v4h-2zM825 389h2v4h-2zM863 389h8v4h-8zM688 393h5v3h-5zM792 393h5v3h-5zM825 393h2v3h-2zM866 393h11v3h-11zM680 396h11v4h-11zM792 396h5v4h-5zM825 396h5v4h-5zM868 396h9v4h-9zM795 400h5v4h-5zM825 400h5v4h-5zM868 400h9v4h-9zM800 404h8v4h-8zM819 404h8v4h-8zM866 404h11v4h-11zM693 408h11v4h-11zM811 408h5v4h-5zM863 408h8v4h-8zM691 412h16v4h-16zM860 412h6v4h-6zM688 416h5v3h-5zM704 416h6v3h-6zM860 416h3v3h-3zM688 419h5v4h-5zM707 419h6v4h-6zM857 419h6v4h-6zM691 423h8v4h-8zM707 423h6v4h-6zM857 423h6v4h-6zM693 427h9v4h-9zM707 427h8v4h-8zM855 427h5v4h-5zM699 431h8v4h-8zM833 431h3v4h-3zM852 431h11v4h-11zM833 435h3v4h-3zM846 435h31v4h-31zM830 439h22v4h-22zM855 439h13v4h-13zM822 443h19v3h-19zM857 443h9v3h-9zM841 446h22v4h-22zM852 450h8v4h-8zM732 454h5v4h-5zM732 458h5v4h-5zM729 462h3v4h-3zM734 462h6v4h-6zM729 466h3v4h-3zM737 466h3v4h-3zM729 470h3v3h-3zM737 470h3v3h-3zM729 473h3v4h-3zM737 473h3v4h-3zM773 473h2v4h-2zM732 477h5v4h-5zM748 481h11v4h-11zM748 485h14v4h-14zM680 489h8v4h-8zM751 489h5v4h-5zM685 493h3v4h-3zM688 497h3v3h-3zM784 497h2v3h-2zM688 500h3v4h-3zM778 500h19v4h-19zM852 500h3v4h-3zM688 504h3v4h-3zM775 504h6v4h-6zM800 504h16v4h-16zM838 504h3v4h-3zM857 504h3v4h-3zM762 508h11v4h-11zM833 508h3v4h-3zM759 512h3v4h-3zM863 512h3v4h-3zM759 516h3v4h-3zM827 516h3v4h-3zM866 516h2v4h-2zM759 520h3v4h-3zM827 520h3v4h-3zM866 520h2v4h-2zM773 524h2v3h-2zM827 524h3v3h-3zM866 524h2v3h-2zM691 527h2v4h-2zM759 527h8v4h-8zM781 527h3v4h-3zM819 527h3v4h-3zM866 527h2v4h-2zM691 531h2v4h-2zM751 531h8v4h-8zM805 531h6v4h-6zM816 531h3v4h-3zM830 531h3v4h-3zM691 535h5v4h-5zM748 535h8v4h-8zM833 535h3v4h-3zM860 535h3v4h-3zM696 539h6v4h-6zM732 539h11v4h-11zM748 539h8v4h-8zM836 539h5v4h-5zM857 539h3v4h-3zM707 543h14v4h-14zM751 543h3v4h-3zM844 543h8v4h-8zM855 543h2v4h-2zM707 547h14v4h-14zM751 547h3v4h-3zM844 547h8v4h-8zM855 547h2v4h-2zM707 551h14v3h-14zM751 551h3v3h-3zM844 551h8v3h-8zM855 551h2v3h-2zM707 554h14v1h-14zM751 554h3v1h-3zM844 554h8v1h-8zM855 554h2v1h-2z"/>
<path fill="#c8fa00" d="M762 326h5v1h-5zM781 326h5v1h-5zM762 327h5v4h-5zM781 327h5v4h-5zM765 331h5v4h-5zM781 331h5v4h-5zM838 331h8v4h-8zM767 335h19v4h-19zM833 335h3v4h-3zM849 335h3v4h-3zM773 339h13v3h-13zM830 339h3v3h-3zM852 339h3v3h-3zM852 342h3v4h-3zM827 346h3v4h-3zM852 346h3v4h-3zM710 350h8v4h-8zM852 350h3v4h-3zM710 354h3v4h-3zM718 354h8v4h-8zM830 354h3v4h-3zM849 354h3v4h-3zM710 358h3v4h-3zM729 358h3v4h-3zM833 358h5v4h-5zM846 358h6v4h-6zM710 362h3v4h-3zM729 362h3v4h-3zM838 362h8v4h-8zM710 366h3v3h-3zM732 366h2v3h-2zM710 369h3v4h-3zM732 369h2v4h-2zM710 373h3v4h-3zM726 373h6v4h-6zM713 377h13v4h-13zM874 377h3v4h-3zM808 381h6v4h-6zM871 381h6v4h-6zM680 385h8v4h-8zM800 385h5v4h-5zM819 385h3v4h-3zM871 385h6v4h-6zM685 389h6v4h-6zM797 389h3v4h-3zM822 389h3v4h-3zM871 389h6v4h-6zM680 393h8v3h-8zM797 393h3v3h-3zM822 393h3v3h-3zM797 396h3v4h-3zM822 396h3v4h-3zM800 400h3v4h-3zM819 400h6v4h-6zM808 404h11v4h-11zM871 408h6v4h-6zM866 412h11v4h-11zM693 416h11v3h-11zM863 416h8v3h-8zM693 419h14v4h-14zM863 419h5v4h-5zM699 423h8v4h-8zM863 423h5v4h-5zM702 427h5v4h-5zM860 427h8v4h-8zM863 431h14v4h-14zM852 439h3v4h-3zM841 443h16v3h-16zM732 462h2v4h-2zM732 466h5v4h-5zM732 470h5v3h-5zM732 473h5v4h-5zM680 493h5v4h-5zM685 497h3v3h-3zM685 500h3v4h-3zM781 504h19v4h-19zM841 504h16v4h-16zM688 508h3v4h-3zM773 508h5v4h-5zM816 508h3v4h-3zM836 508h2v4h-2zM860 508h3v4h-3zM688 512h3v4h-3zM762 512h8v4h-8zM819 512h3v4h-3zM830 512h3v4h-3zM688 516h3v4h-3zM762 516h5v4h-5zM819 516h3v4h-3zM830 516h3v4h-3zM863 516h3v4h-3zM688 520h3v4h-3zM770 520h5v4h-5zM819 520h3v4h-3zM830 520h3v4h-3zM688 524h3v3h-3zM759 524h3v3h-3zM767 524h6v3h-6zM775 524h3v3h-3zM819 524h3v3h-3zM830 524h3v3h-3zM688 527h3v4h-3zM784 527h8v4h-8zM830 527h3v4h-3zM863 527h3v4h-3zM688 531h3v4h-3zM811 531h5v4h-5zM833 531h3v4h-3zM860 531h3v4h-3zM685 535h6v4h-6zM836 535h5v4h-5zM857 535h3v4h-3zM680 539h16v4h-16zM743 539h5v4h-5zM841 539h8v4h-8zM855 539h2v4h-2zM680 543h8v4h-8zM699 543h8v4h-8zM721 543h8v4h-8zM748 543h3v4h-3zM852 543h3v4h-3zM680 547h8v4h-8zM699 547h8v4h-8zM721 547h8v4h-8zM748 547h3v4h-3zM852 547h3v4h-3zM680 551h8v3h-8zM699 551h8v3h-8zM721 551h8v3h-8zM748 551h3v3h-3zM852 551h3v3h-3zM680 554h8v1h-8zM699 554h8v1h-8zM721 554h8v1h-8zM748 554h3v1h-3zM852 554h3v1h-3z"/>
<path fill="#dff900" d="M767 326h6v1h-6zM775 326h6v1h-6zM767 327h6v4h-6zM775 327h6v4h-6zM770 331h11v4h-11zM836 335h5v4h-5zM846 335h3v4h-3zM833 339h3v3h-3zM849 339h3v3h-3zM830 342h3v4h-3zM849 342h3v4h-3zM830 346h3v4h-3zM830 350h3v4h-3zM849 350h3v4h-3zM713 354h5v4h-5zM833 354h5v4h-5zM846 354h3v4h-3zM713 358h5v4h-5zM726 358h3v4h-3zM838 358h8v4h-8zM713 362h5v4h-5zM726 362h3v4h-3zM713 366h5v3h-5zM726 366h6v3h-6zM713 369h5v4h-5zM726 369h6v4h-6zM713 373h13v4h-13zM805 385h6v4h-6zM816 385h3v4h-3zM680 389h5v4h-5zM800 389h5v4h-5zM819 389h3v4h-3zM800 393h5v3h-5zM819 393h3v3h-3zM800 396h5v4h-5zM819 396h3v4h-3zM803 400h8v4h-8zM814 400h5v4h-5zM871 416h6v3h-6zM868 419h9v4h-9zM868 423h9v4h-9zM868 427h9v4h-9zM680 497h5v3h-5zM685 504h3v4h-3zM778 508h6v4h-6zM803 508h2v4h-2zM838 508h6v4h-6zM857 508h3v4h-3zM770 512h8v4h-8zM833 512h3v4h-3zM860 512h3v4h-3zM767 516h11v4h-11zM833 516h3v4h-3zM762 520h8v4h-8zM775 520h3v4h-3zM833 520h3v4h-3zM863 520h3v4h-3zM762 524h5v3h-5zM778 524h3v3h-3zM833 524h3v3h-3zM863 524h3v3h-3zM685 527h3v4h-3zM792 527h13v4h-13zM816 527h3v4h-3zM833 527h5v4h-5zM860 527h3v4h-3zM685 531h3v4h-3zM836 531h5v4h-5zM857 531h3v4h-3zM680 535h5v4h-5zM841 535h8v4h-8zM855 535h2v4h-2zM849 539h6v4h-6zM688 543h11v4h-11zM729 543h11v4h-11zM745 543h3v4h-3zM688 547h11v4h-11zM729 547h11v4h-11zM745 547h3v4h-3zM688 551h11v3h-11zM729 551h11v3h-11zM745 551h3v3h-3zM688 554h11v1h-11zM729 554h11v1h-11zM745 554h3v1h-3z"/>
<path fill="#f0f500" d="M773 326h2v1h-2zM773 327h2v4h-2zM841 335h5v4h-5zM836 339h2v3h-2zM846 339h3v3h-3zM833 342h5v4h-5zM833 346h3v4h-3zM849 346h3v4h-3zM833 350h3v4h-3zM838 354h8v4h-8zM718 358h8v4h-8zM718 362h8v4h-8zM718 366h8v3h-8zM718 369h8v4h-8zM811 385h5v4h-5zM805 389h3v4h-3zM816 389h3v4h-3zM805 393h6v3h-6zM816 393h3v3h-3zM805 396h14v4h-14zM811 400h3v4h-3zM680 500h5v4h-5zM685 508h3v4h-3zM784 508h19v4h-19zM805 508h11v4h-11zM844 508h13v4h-13zM685 512h3v4h-3zM778 512h3v4h-3zM816 512h3v4h-3zM836 512h5v4h-5zM857 512h3v4h-3zM685 516h3v4h-3zM778 516h3v4h-3zM836 516h2v4h-2zM860 516h3v4h-3zM685 520h3v4h-3zM778 520h6v4h-6zM836 520h2v4h-2zM860 520h3v4h-3zM685 524h3v3h-3zM781 524h5v3h-5zM836 524h2v3h-2zM860 524h3v3h-3zM805 527h6v4h-6zM838 527h3v4h-3zM680 531h5v4h-5zM841 531h5v4h-5zM855 531h2v4h-2zM849 535h6v4h-6zM740 543h5v4h-5zM740 547h5v4h-5zM740 551h5v3h-5zM740 554h5v1h-5z"/>
<path fill="#00d316" d="M724 331h2v4h-2zM680 335h5v4h-5zM721 335h8v4h-8zM680 339h5v3h-5zM721 339h11v3h-11zM680 342h5v4h-5zM680 346h8v4h-8zM680 350h8v4h-8zM680 354h8v4h-8zM680 358h5v4h-5zM784 362h5v4h-5zM781 366h11v3h-11zM781 369h11v4h-11zM784 373h2v4h-2zM825 377h5v4h-5zM836 377h5v4h-5zM830 381h3v4h-3zM836 381h5v4h-5zM833 385h8v4h-8zM754 404h2v4h-2zM754 408h5v4h-5zM781 416h5v3h-5zM775 419h9v4h-9zM786 419h9v4h-9zM773 423h5v4h-5zM795 423h2v4h-2zM770 427h8v4h-8zM797 427h3v4h-3zM775 431h3v4h-3zM795 431h5v4h-5zM778 435h6v4h-6zM786 435h6v4h-6zM702 446h2v4h-2zM693 450h17v4h-17zM691 454h19v4h-19zM693 458h14v4h-14zM833 458h8v4h-8zM830 462h16v4h-16zM827 466h6v4h-6zM846 466h3v4h-3zM825 470h5v3h-5zM846 470h3v3h-3zM825 473h2v4h-2zM849 473h3v4h-3zM825 477h5v4h-5zM846 477h3v4h-3zM825 481h8v4h-8zM841 481h8v4h-8zM827 485h19v4h-19zM830 489h14v4h-14zM707 493h25v4h-25zM702 497h5v3h-5zM732 497h5v3h-5zM699 500h3v4h-3zM737 500h8v4h-8zM699 504h3v4h-3zM745 504h3v4h-3zM696 508h3v4h-3zM745 508h3v4h-3zM696 512h3v4h-3zM748 512h3v4h-3zM696 516h3v4h-3zM748 516h3v4h-3zM699 524h3v3h-3zM745 524h3v3h-3zM699 527h3v4h-3zM740 527h5v4h-5zM704 531h6v4h-6zM721 531h16v4h-16zM770 531h3v4h-3zM775 531h3v4h-3zM767 535h3v4h-3zM781 535h5v4h-5zM765 539h2v4h-2zM792 539h5v4h-5zM762 543h3v4h-3zM800 543h3v4h-3zM762 547h3v4h-3zM800 547h3v4h-3zM762 551h3v3h-3zM800 551h3v3h-3zM762 554h3v1h-3zM800 554h3v1h-3z"/>
<path fill="#f8e800" d="M838 339h8v3h-8zM838 342h3v4h-3zM846 342h3v4h-3zM836 346h2v4h-2zM846 346h3v4h-3zM836 350h5v4h-5zM846 350h3v4h-3zM808 389h8v4h-8zM811 393h5v3h-5zM680 504h5v4h-5zM781 512h5v4h-5zM803 512h2v4h-2zM841 512h5v4h-5zM781 516h5v4h-5zM816 516h3v4h-3zM838 516h3v4h-3zM857 516h3v4h-3zM784 520h5v4h-5zM816 520h3v4h-3zM838 520h3v4h-3zM786 524h19v3h-19zM816 524h3v3h-3zM838 524h3v3h-3zM680 527h5v4h-5zM811 527h5v4h-5zM841 527h5v4h-5zM857 527h3v4h-3zM846 531h9v4h-9z"/>
<path fill="#ffd800" d="M841 342h5v4h-5zM838 346h8v4h-8zM841 350h5v4h-5zM680 508h5v4h-5zM786 512h17v4h-17zM805 512h6v4h-6zM846 512h11v4h-11zM786 516h6v4h-6zM795 516h13v4h-13zM841 516h8v4h-8zM855 516h2v4h-2zM680 520h5v4h-5zM789 520h19v4h-19zM841 520h5v4h-5zM857 520h3v4h-3zM680 524h5v3h-5zM805 524h3v3h-3zM841 524h5v3h-5zM857 524h3v3h-3zM846 527h6v4h-6zM855 527h2v4h-2z"/>
<path fill="#00c533" d="M830 377h6v4h-6zM833 381h3v4h-3zM784 419h2v4h-2zM778 423h17v4h-17zM778 427h3v4h-3zM795 427h2v4h-2zM778 431h6v4h-6zM786 431h9v4h-9zM784 435h2v4h-2zM833 466h13v4h-13zM830 470h3v3h-3zM841 470h5v3h-5zM827 473h3v4h-3zM844 473h5v4h-5zM830 477h3v4h-3zM836 477h10v4h-10zM833 481h8v4h-8zM707 497h6v3h-6zM721 497h11v3h-11zM702 500h5v4h-5zM729 500h8v4h-8zM737 504h8v4h-8zM699 508h3v4h-3zM743 508h2v4h-2zM745 512h3v4h-3zM745 516h3v4h-3zM699 520h3v4h-3zM745 520h3v4h-3zM702 527h5v4h-5zM737 527h3v4h-3zM710 531h11v4h-11zM773 531h2v4h-2zM778 535h3v4h-3zM767 539h3v4h-3zM786 539h6v4h-6zM765 543h2v4h-2zM795 543h5v4h-5zM765 547h2v4h-2zM795 547h5v4h-5zM765 551h2v3h-2zM795 551h5v3h-5zM765 554h2v1h-2zM795 554h5v1h-5z"/>
<path fill="#00c350" d="M781 427h14v4h-14zM784 431h2v4h-2zM833 470h8v3h-8zM830 473h14v4h-14zM833 477h3v4h-3zM713 497h8v3h-8zM707 500h3v4h-3zM721 500h8v4h-8zM702 504h5v4h-5zM729 504h8v4h-8zM702 508h2v4h-2zM737 508h6v4h-6zM699 512h3v4h-3zM743 512h2v4h-2zM699 516h3v4h-3zM743 516h2v4h-2zM702 520h2v4h-2zM740 520h5v4h-5zM702 524h2v3h-2zM740 524h5v3h-5zM707 527h6v4h-6zM721 527h16v4h-16zM770 535h3v4h-3zM775 535h3v4h-3zM781 539h5v4h-5zM767 543h3v4h-3zM792 543h3v4h-3zM767 547h3v4h-3zM792 547h3v4h-3zM767 551h3v3h-3zM792 551h3v3h-3zM767 554h3v1h-3zM792 554h3v1h-3z"/>
<path fill="#00c36c" d="M710 500h11v4h-11zM707 504h3v4h-3zM721 504h8v4h-8zM704 508h3v4h-3zM729 508h8v4h-8zM702 512h2v4h-2zM737 512h6v4h-6zM702 516h2v4h-2zM737 516h6v4h-6zM704 520h3v4h-3zM737 520h3v4h-3zM704 524h6v3h-6zM734 524h6v3h-6zM713 527h8v4h-8zM773 535h2v4h-2zM770 539h3v4h-3zM775 539h6v4h-6zM770 543h3v4h-3zM786 543h6v4h-6zM770 547h3v4h-3zM786 547h6v4h-6zM770 551h3v3h-3zM786 551h6v3h-6zM770 554h3v1h-3zM786 554h6v1h-6z"/>
<path fill="#00c582" d="M710 504h3v4h-3zM715 504h6v4h-6zM707 508h3v4h-3zM721 508h8v4h-8zM704 512h3v4h-3zM729 512h8v4h-8zM704 516h3v4h-3zM729 516h8v4h-8zM707 520h3v4h-3zM724 520h13v4h-13zM710 524h24v3h-24zM773 539h2v4h-2zM773 543h13v4h-13zM773 547h13v4h-13zM773 551h13v3h-13zM773 554h13v1h-13z"/>
<path fill="#00c896" d="M713 504h2v4h-2zM710 508h3v4h-3zM718 508h3v4h-3zM707 512h3v4h-3zM721 512h8v4h-8zM707 516h3v4h-3zM721 516h8v4h-8zM710 520h14v4h-14z"/>
<path fill="#00ccac" d="M713 508h5v4h-5zM718 512h3v4h-3zM710 516h3v4h-3zM715 516h6v4h-6z"/>
<path fill="#ffca00" d="M680 512h5v4h-5zM811 512h5v4h-5zM680 516h5v4h-5zM792 516h3v4h-3zM808 516h3v4h-3zM814 516h2v4h-2zM849 516h6v4h-6zM808 520h3v4h-3zM814 520h2v4h-2zM846 520h6v4h-6zM855 520h2v4h-2zM808 524h3v3h-3zM814 524h2v3h-2zM846 524h6v3h-6zM855 524h2v3h-2zM852 527h3v4h-3z"/>
<path fill="#00d0c1" d="M710 512h3v4h-3zM715 512h3v4h-3zM713 516h2v4h-2z"/>
<path fill="#00ced6" d="M713 512h2v4h-2z"/>
<path fill="#ffbd00" d="M811 516h3v4h-3zM811 520h3v4h-3zM852 520h3v4h-3zM811 524h3v3h-3zM852 524h3v3h-3z"/>
</g>
<g shape-rendering="crispEdges">
<rect x="679.5" y="35.5" width="198" height="232" fill="none" stroke="#000" stroke-width="1"/>
<path d="M677 62.5H679" stroke="#000" stroke-width="1"/>
<path d="M878 62.5H880" stroke="#000" stroke-width="1"/>
<path d="M677 101.5H679" stroke="#000" stroke-width="1"/>
<path d="M878 101.5H880" stroke="#000" stroke-width="1"/>
<path d="M677 139.5H679" stroke="#000" stroke-width="1"/>
<path d="M878 139.5H880" stroke="#000" stroke-width="1"/>
<path d="M677 178.5H679" stroke="#000" stroke-width="1"/>
<path d="M878 178.5H880" stroke="#000" stroke-width="1"/>
<path d="M677 216.5H679" stroke="#000" stroke-width="1"/>
<path d="M878 216.5H880" stroke="#000" stroke-width="1"/>
<path d="M677 255.5H679" stroke="#000" stroke-width="1"/>
<path d="M878 255.5H880" stroke="#000" stroke-width="1"/>
<path d="M735.5 32V35" stroke="#000" stroke-width="1"/>
<path d="M735.5 268V270" stroke="#000" stroke-width="1"/>
<path d="M803.5 32V35" stroke="#000" stroke-width="1"/>
<path d="M803.5 268V270" stroke="#000" stroke-width="1"/>
<path d="M872.5 32V35" stroke="#000" stroke-width="1"/>
<path d="M872.5 268V270" stroke="#000" stroke-width="1"/>
</g>
<text x="673" y="65.89999999999999" font-size="12.6" text-anchor="end">-40</text>
<text x="673" y="104.44" font-size="12.6" text-anchor="end">-42</text>
<text x="673" y="142.98" font-size="12.6" text-anchor="end">-44</text>
<text x="673" y="181.52" font-size="12.6" text-anchor="end">-46</text>
<text x="673" y="220.05999999999997" font-size="12.6" text-anchor="end">-48</text>
<text x="673" y="258.6" font-size="12.6" text-anchor="end">-50</text>
<text x="735.5" y="283.8" font-size="12.6" text-anchor="middle">130</text>
<text x="803.5" y="283.8" font-size="12.6" text-anchor="middle">135</text>
<text x="872.5" y="283.8" font-size="12.6" text-anchor="middle">140</text>
<polygon points="776.5,146.5 780.5,146.5 783.5,149.5 783.5,153.5 780.5,156.5 776.5,156.5 773.5,153.5 773.5,149.5" fill="#00b964" stroke="#000" stroke-width="1.2"/>
<g shape-rendering="crispEdges">
<rect x="679.5" y="325.5" width="198" height="232" fill="none" stroke="#000" stroke-width="1"/>
<path d="M677 352.5H679" stroke="#000" stroke-width="1"/>
<path d="M878 352.5H880" stroke="#000" stroke-width="1"/>
<path d="M677 391.5H679" stroke="#000" stroke-width="1"/>
<path d="M878 391.5H880" stroke="#000" stroke-width="1"/>
<path d="M677 429.5H679" stroke="#000" stroke-width="1"/>
<path d="M878 429.5H880" stroke="#000" stroke-width="1"/>
<path d="M677 468.5H679" stroke="#000" stroke-width="1"/>
<path d="M878 468.5H880" stroke="#000" stroke-width="1"/>
<path d="M677 506.5H679" stroke="#000" stroke-width="1"/>
<path d="M878 506.5H880" stroke="#000" stroke-width="1"/>
<path d="M677 545.5H679" stroke="#000" stroke-width="1"/>
<path d="M878 545.5H880" stroke="#000" stroke-width="1"/>
<path d="M735.5 322V325" stroke="#000" stroke-width="1"/>
<path d="M735.5 558V560" stroke="#000" stroke-width="1"/>
<path d="M803.5 322V325" stroke="#000" stroke-width="1"/>
<path d="M803.5 558V560" stroke="#000" stroke-width="1"/>
<path d="M872.5 322V325" stroke="#000" stroke-width="1"/>
<path d="M872.5 558V560" stroke="#000" stroke-width="1"/>
</g>
<text x="673" y="355.90000000000003" font-size="12.6" text-anchor="end">-40</text>
<text x="673" y="394.44000000000005" font-size="12.6" text-anchor="end">-42</text>
<text x="673" y="432.98" font-size="12.6" text-anchor="end">-44</text>
<text x="673" y="471.52000000000004" font-size="12.6" text-anchor="end">-46</text>
<text x="673" y="510.06000000000006" font-size="12.6" text-anchor="end">-48</text>
<text x="673" y="548.6" font-size="12.6" text-anchor="end">-50</text>
<text x="735.5" y="573.8" font-size="12.6" text-anchor="middle">130</text>
<text x="803.5" y="573.8" font-size="12.6" text-anchor="middle">135</text>
<text x="872.5" y="573.8" font-size="12.6" text-anchor="middle">140</text>
<polygon points="776.5,436.5 780.5,436.5 783.5,439.5 783.5,443.5 780.5,446.5 776.5,446.5 773.5,443.5 773.5,439.5" fill="#00d214" stroke="#000" stroke-width="1.2"/>
<text x="776.5" y="26" font-size="12.6" text-anchor="middle" textLength="138" lengthAdjust="spacingAndGlyphs">sat. SST: 11.5 Argo: 11.6</text>
<text x="755" y="302" font-size="12.6" text-anchor="middle" textLength="94.5" lengthAdjust="spacingAndGlyphs">Altim. SLA: 0.024</text>
<text x="776.8" y="316.4" font-size="12.6" text-anchor="middle" textLength="174.5" lengthAdjust="spacingAndGlyphs">Argo h1000: 0.018 h2000: NaN</text>
<text transform="translate(891.3 547) rotate(-90)" font-size="12.6" textLength="171.5" lengthAdjust="spacingAndGlyphs">©IMOS 20-Mar-2015 20:39:02</text>
</svg>
</body></html>
